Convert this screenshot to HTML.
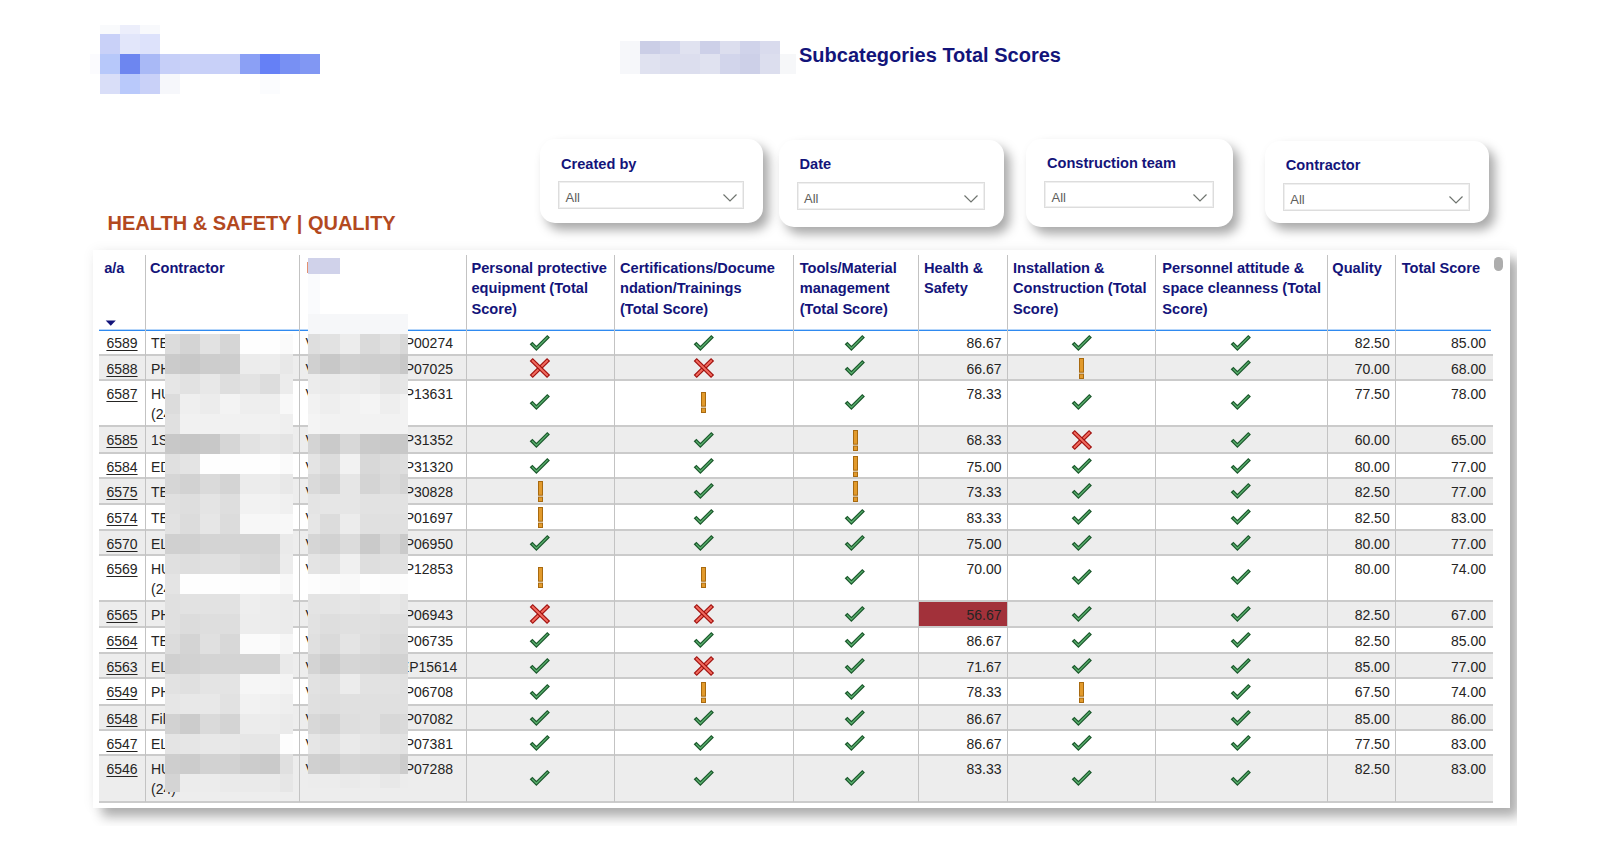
<!DOCTYPE html>
<html><head><meta charset="utf-8"><style>
html,body{margin:0;padding:0;}
body{width:1621px;height:854px;position:relative;overflow:hidden;background:#fff;font-family:"Liberation Sans",sans-serif;}
</style></head><body>
<div style="position:absolute;left:100px;top:25px;width:20px;height:9px;background:#f9fafc;"></div>
<div style="position:absolute;left:120px;top:25px;width:20px;height:9px;background:#eceefb;"></div>
<div style="position:absolute;left:140px;top:25px;width:20px;height:9px;background:#f8f9fc;"></div>
<div style="position:absolute;left:100px;top:34px;width:20px;height:20px;background:#c9d1f8;"></div>
<div style="position:absolute;left:120px;top:34px;width:20px;height:20px;background:#e2e6fa;"></div>
<div style="position:absolute;left:140px;top:34px;width:20px;height:20px;background:#dde2fb;"></div>
<div style="position:absolute;left:90px;top:54px;width:10px;height:20px;background:#fbfbfe;"></div>
<div style="position:absolute;left:100px;top:54px;width:20px;height:20px;background:#b7c8fa;"></div>
<div style="position:absolute;left:120px;top:54px;width:20px;height:20px;background:#6d86f0;"></div>
<div style="position:absolute;left:140px;top:54px;width:20px;height:20px;background:#a9b9f6;"></div>
<div style="position:absolute;left:160px;top:54px;width:20px;height:20px;background:#c6cff8;"></div>
<div style="position:absolute;left:180px;top:54px;width:20px;height:20px;background:#c9d1f8;"></div>
<div style="position:absolute;left:200px;top:54px;width:20px;height:20px;background:#c8d0f8;"></div>
<div style="position:absolute;left:220px;top:54px;width:20px;height:20px;background:#c9d1f8;"></div>
<div style="position:absolute;left:240px;top:54px;width:20px;height:20px;background:#8ba0f5;"></div>
<div style="position:absolute;left:260px;top:54px;width:20px;height:20px;background:#6580f6;"></div>
<div style="position:absolute;left:280px;top:54px;width:20px;height:20px;background:#7890f3;"></div>
<div style="position:absolute;left:300px;top:54px;width:20px;height:20px;background:#8197f3;"></div>
<div style="position:absolute;left:100px;top:74px;width:20px;height:20px;background:#d9def8;"></div>
<div style="position:absolute;left:120px;top:74px;width:20px;height:20px;background:#b9c9fb;"></div>
<div style="position:absolute;left:140px;top:74px;width:20px;height:20px;background:#c9d1f8;"></div>
<div style="position:absolute;left:160px;top:74px;width:20px;height:20px;background:#f6f7fb;"></div>
<div style="position:absolute;left:260px;top:74px;width:20px;height:20px;background:#fbfcfe;"></div>
<div style="position:absolute;left:620px;top:41px;width:20px;height:13px;background:#f6f7fa;"></div>
<div style="position:absolute;left:640px;top:41px;width:20px;height:13px;background:#cbcee6;"></div>
<div style="position:absolute;left:660px;top:41px;width:20px;height:13px;background:#d2d5eb;"></div>
<div style="position:absolute;left:680px;top:41px;width:20px;height:13px;background:#e0e2f0;"></div>
<div style="position:absolute;left:700px;top:41px;width:20px;height:13px;background:#cdd0e8;"></div>
<div style="position:absolute;left:720px;top:41px;width:20px;height:13px;background:#dcdeee;"></div>
<div style="position:absolute;left:740px;top:41px;width:20px;height:13px;background:#d0d3ea;"></div>
<div style="position:absolute;left:760px;top:41px;width:20px;height:13px;background:#d9dbed;"></div>
<div style="position:absolute;left:620px;top:54px;width:20px;height:20px;background:#f6f7fa;"></div>
<div style="position:absolute;left:640px;top:54px;width:20px;height:20px;background:#e0e2f0;"></div>
<div style="position:absolute;left:660px;top:54px;width:20px;height:20px;background:#dcdeee;"></div>
<div style="position:absolute;left:680px;top:54px;width:20px;height:20px;background:#dcdeee;"></div>
<div style="position:absolute;left:700px;top:54px;width:20px;height:20px;background:#e0e2f0;"></div>
<div style="position:absolute;left:720px;top:54px;width:20px;height:20px;background:#d2d5eb;"></div>
<div style="position:absolute;left:740px;top:54px;width:20px;height:20px;background:#cdd0e8;"></div>
<div style="position:absolute;left:760px;top:54px;width:20px;height:20px;background:#dcdeee;"></div>
<div style="position:absolute;left:780px;top:54px;width:16px;height:20px;background:#f6f7f9;"></div>
<div style="position:absolute;top:44.97px;font-size:20px;line-height:20px;color:#13147a;font-weight:700;white-space:nowrap;left:799.00px;">Subcategories Total Scores</div>
<div style="position:absolute;left:540px;top:139px;width:223px;height:84px;background:#fff;border-radius:15px;box-shadow:6px 7px 11px rgba(0,0,0,0.34);"></div>
<div style="position:absolute;top:156.54px;font-size:14.6px;line-height:14.6px;color:#13147a;font-weight:700;white-space:nowrap;left:561.00px;">Created by</div>
<div style="position:absolute;left:558.0px;top:181.3px;width:186.0px;height:27.8px;box-sizing:border-box;border:1px solid #dddddd;box-shadow:inset 0 0 0 1px #efefef;background:#fff;"></div>
<div style="position:absolute;top:191.10px;font-size:13px;line-height:13px;color:#605e5c;font-weight:400;white-space:nowrap;left:565.50px;">All</div>
<svg style="position:absolute;left:723.0px;top:193.8px" width="14" height="8" viewBox="0 0 14 8"><polyline points="0.5,0.5 7,7 13.5,0.5" fill="none" stroke="#6f746f" stroke-width="1.2"/></svg>
<div style="position:absolute;left:779px;top:140px;width:225px;height:87px;background:#fff;border-radius:15px;box-shadow:6px 7px 11px rgba(0,0,0,0.34);"></div>
<div style="position:absolute;top:156.94px;font-size:14.6px;line-height:14.6px;color:#13147a;font-weight:700;white-space:nowrap;left:799.50px;">Date</div>
<div style="position:absolute;left:796.5px;top:182.3px;width:188.5px;height:27.8px;box-sizing:border-box;border:1px solid #dddddd;box-shadow:inset 0 0 0 1px #efefef;background:#fff;"></div>
<div style="position:absolute;top:192.10px;font-size:13px;line-height:13px;color:#605e5c;font-weight:400;white-space:nowrap;left:804.00px;">All</div>
<svg style="position:absolute;left:964.0px;top:194.8px" width="14" height="8" viewBox="0 0 14 8"><polyline points="0.5,0.5 7,7 13.5,0.5" fill="none" stroke="#6f746f" stroke-width="1.2"/></svg>
<div style="position:absolute;left:1026px;top:138.5px;width:207px;height:88px;background:#fff;border-radius:15px;box-shadow:6px 7px 11px rgba(0,0,0,0.34);"></div>
<div style="position:absolute;top:155.84px;font-size:14.6px;line-height:14.6px;color:#13147a;font-weight:700;white-space:nowrap;left:1047.00px;">Construction team</div>
<div style="position:absolute;left:1044.0px;top:181px;width:170.0px;height:27.3px;box-sizing:border-box;border:1px solid #dddddd;box-shadow:inset 0 0 0 1px #efefef;background:#fff;"></div>
<div style="position:absolute;top:190.80px;font-size:13px;line-height:13px;color:#605e5c;font-weight:400;white-space:nowrap;left:1051.50px;">All</div>
<svg style="position:absolute;left:1193.0px;top:193.5px" width="14" height="8" viewBox="0 0 14 8"><polyline points="0.5,0.5 7,7 13.5,0.5" fill="none" stroke="#6f746f" stroke-width="1.2"/></svg>
<div style="position:absolute;left:1265px;top:141px;width:224px;height:82px;background:#fff;border-radius:15px;box-shadow:6px 7px 11px rgba(0,0,0,0.34);"></div>
<div style="position:absolute;top:157.74px;font-size:14.6px;line-height:14.6px;color:#13147a;font-weight:700;white-space:nowrap;left:1285.80px;">Contractor</div>
<div style="position:absolute;left:1282.8px;top:183.4px;width:187.5px;height:27.400000000000002px;box-sizing:border-box;border:1px solid #dddddd;box-shadow:inset 0 0 0 1px #efefef;background:#fff;"></div>
<div style="position:absolute;top:193.20px;font-size:13px;line-height:13px;color:#605e5c;font-weight:400;white-space:nowrap;left:1290.30px;">All</div>
<svg style="position:absolute;left:1449.3px;top:195.9px" width="14" height="8" viewBox="0 0 14 8"><polyline points="0.5,0.5 7,7 13.5,0.5" fill="none" stroke="#6f746f" stroke-width="1.2"/></svg>
<div style="position:absolute;top:212.87px;font-size:20px;line-height:20px;color:#b3491f;font-weight:700;white-space:nowrap;left:107.50px;">HEALTH &amp; SAFETY | QUALITY</div>
<div style="position:absolute;left:78px;top:234px;width:1439px;height:592px;overflow:hidden;">
<div style="position:absolute;left:15px;top:16px;width:1417px;height:558px;background:#fff;box-shadow:9px 9px 11px rgba(0,0,0,0.30),0 0 12px rgba(0,0,0,0.06);"></div>
</div>
<div style="position:absolute;top:260.54px;font-size:14.6px;line-height:14.6px;color:#13147a;font-weight:700;white-space:nowrap;left:104.20px;">a/a</div>
<div style="position:absolute;top:260.54px;font-size:14.6px;line-height:14.6px;color:#13147a;font-weight:700;white-space:nowrap;left:150.00px;">Contractor</div>
<div style="position:absolute;top:260.54px;font-size:14.6px;line-height:14.6px;color:#13147a;font-weight:700;white-space:nowrap;left:471.50px;">Personal protective</div>
<div style="position:absolute;top:281.44px;font-size:14.6px;line-height:14.6px;color:#13147a;font-weight:700;white-space:nowrap;left:471.50px;">equipment (Total</div>
<div style="position:absolute;top:302.34px;font-size:14.6px;line-height:14.6px;color:#13147a;font-weight:700;white-space:nowrap;left:471.50px;">Score)</div>
<div style="position:absolute;top:260.54px;font-size:14.6px;line-height:14.6px;color:#13147a;font-weight:700;white-space:nowrap;left:620.00px;">Certifications/Docume</div>
<div style="position:absolute;top:281.44px;font-size:14.6px;line-height:14.6px;color:#13147a;font-weight:700;white-space:nowrap;left:620.00px;">ndation/Trainings</div>
<div style="position:absolute;top:302.34px;font-size:14.6px;line-height:14.6px;color:#13147a;font-weight:700;white-space:nowrap;left:620.00px;">(Total Score)</div>
<div style="position:absolute;top:260.54px;font-size:14.6px;line-height:14.6px;color:#13147a;font-weight:700;white-space:nowrap;left:799.70px;">Tools/Material</div>
<div style="position:absolute;top:281.44px;font-size:14.6px;line-height:14.6px;color:#13147a;font-weight:700;white-space:nowrap;left:799.70px;">management</div>
<div style="position:absolute;top:302.34px;font-size:14.6px;line-height:14.6px;color:#13147a;font-weight:700;white-space:nowrap;left:799.70px;">(Total Score)</div>
<div style="position:absolute;top:260.54px;font-size:14.6px;line-height:14.6px;color:#13147a;font-weight:700;white-space:nowrap;left:924.00px;">Health &amp;</div>
<div style="position:absolute;top:281.44px;font-size:14.6px;line-height:14.6px;color:#13147a;font-weight:700;white-space:nowrap;left:924.00px;">Safety</div>
<div style="position:absolute;top:260.54px;font-size:14.6px;line-height:14.6px;color:#13147a;font-weight:700;white-space:nowrap;left:1013.00px;">Installation &amp;</div>
<div style="position:absolute;top:281.44px;font-size:14.6px;line-height:14.6px;color:#13147a;font-weight:700;white-space:nowrap;left:1013.00px;">Construction (Total</div>
<div style="position:absolute;top:302.34px;font-size:14.6px;line-height:14.6px;color:#13147a;font-weight:700;white-space:nowrap;left:1013.00px;">Score)</div>
<div style="position:absolute;top:260.54px;font-size:14.6px;line-height:14.6px;color:#13147a;font-weight:700;white-space:nowrap;left:1162.30px;">Personnel attitude &amp;</div>
<div style="position:absolute;top:281.44px;font-size:14.6px;line-height:14.6px;color:#13147a;font-weight:700;white-space:nowrap;left:1162.30px;">space cleanness (Total</div>
<div style="position:absolute;top:302.34px;font-size:14.6px;line-height:14.6px;color:#13147a;font-weight:700;white-space:nowrap;left:1162.30px;">Score)</div>
<div style="position:absolute;top:260.54px;font-size:14.6px;line-height:14.6px;color:#13147a;font-weight:700;white-space:nowrap;left:1332.30px;">Quality</div>
<div style="position:absolute;top:260.54px;font-size:14.6px;line-height:14.6px;color:#13147a;font-weight:700;white-space:nowrap;left:1401.70px;">Total Score</div>
<svg style="position:absolute;left:105px;top:319.5px" width="12" height="7" viewBox="0 0 12 7"><polygon points="0.7,0.6 10.8,0.6 5.75,5.8" fill="#13147a"/></svg>
<div style="position:absolute;left:1494px;top:256.5px;width:9px;height:14.5px;background:#adadad;border-radius:4.5px;"></div>
<div style="position:absolute;left:99px;top:354px;width:1394px;height:2px;background:#cbcbcb;"></div>
<div style="position:absolute;left:99px;top:356px;width:1394px;height:23px;background:#ededed;"></div>
<div style="position:absolute;left:99px;top:379px;width:1394px;height:2px;background:#cbcbcb;"></div>
<div style="position:absolute;left:99px;top:425px;width:1394px;height:2px;background:#cbcbcb;"></div>
<div style="position:absolute;left:99px;top:427px;width:1394px;height:25px;background:#ededed;"></div>
<div style="position:absolute;left:99px;top:452px;width:1394px;height:2px;background:#cbcbcb;"></div>
<div style="position:absolute;left:99px;top:477px;width:1394px;height:2px;background:#cbcbcb;"></div>
<div style="position:absolute;left:99px;top:479px;width:1394px;height:24px;background:#ededed;"></div>
<div style="position:absolute;left:99px;top:503px;width:1394px;height:2px;background:#cbcbcb;"></div>
<div style="position:absolute;left:99px;top:529px;width:1394px;height:2px;background:#cbcbcb;"></div>
<div style="position:absolute;left:99px;top:531px;width:1394px;height:23px;background:#ededed;"></div>
<div style="position:absolute;left:99px;top:554px;width:1394px;height:2px;background:#cbcbcb;"></div>
<div style="position:absolute;left:99px;top:600px;width:1394px;height:2px;background:#cbcbcb;"></div>
<div style="position:absolute;left:99px;top:602px;width:1394px;height:24px;background:#ededed;"></div>
<div style="position:absolute;left:99px;top:626px;width:1394px;height:2px;background:#cbcbcb;"></div>
<div style="position:absolute;left:99px;top:652px;width:1394px;height:2px;background:#cbcbcb;"></div>
<div style="position:absolute;left:99px;top:654px;width:1394px;height:23px;background:#ededed;"></div>
<div style="position:absolute;left:99px;top:677px;width:1394px;height:2px;background:#cbcbcb;"></div>
<div style="position:absolute;left:99px;top:704px;width:1394px;height:2px;background:#cbcbcb;"></div>
<div style="position:absolute;left:99px;top:706px;width:1394px;height:23px;background:#ededed;"></div>
<div style="position:absolute;left:99px;top:729px;width:1394px;height:2px;background:#cbcbcb;"></div>
<div style="position:absolute;left:99px;top:754px;width:1394px;height:2px;background:#cbcbcb;"></div>
<div style="position:absolute;left:99px;top:756px;width:1394px;height:45px;background:#ededed;"></div>
<div style="position:absolute;left:99px;top:801px;width:1394px;height:2px;background:#cbcbcb;"></div>
<div style="position:absolute;left:99px;top:330px;width:1392px;height:1px;background:#2f8af0;"></div>
<div style="position:absolute;left:99px;top:329px;width:1392px;height:1px;background:rgba(47,138,240,0.35);"></div>
<div style="position:absolute;left:145px;top:255px;width:1px;height:547px;background:#c3c3c3;"></div>
<div style="position:absolute;left:299px;top:255px;width:1px;height:547px;background:#c3c3c3;"></div>
<div style="position:absolute;left:466px;top:255px;width:1px;height:547px;background:#c3c3c3;"></div>
<div style="position:absolute;left:614px;top:255px;width:1px;height:547px;background:#c3c3c3;"></div>
<div style="position:absolute;left:793px;top:255px;width:1px;height:547px;background:#c3c3c3;"></div>
<div style="position:absolute;left:918px;top:255px;width:1px;height:547px;background:#c3c3c3;"></div>
<div style="position:absolute;left:1007px;top:255px;width:1px;height:547px;background:#c3c3c3;"></div>
<div style="position:absolute;left:1155px;top:255px;width:1px;height:547px;background:#c3c3c3;"></div>
<div style="position:absolute;left:1327px;top:255px;width:1px;height:547px;background:#c3c3c3;"></div>
<div style="position:absolute;left:1395px;top:255px;width:1px;height:547px;background:#c3c3c3;"></div>
<div style="position:absolute;left:919px;top:602px;width:88px;height:24px;background:#a2313a;"></div>
<div style="position:absolute;top:335.85px;font-size:14px;line-height:14px;color:#252423;font-weight:400;white-space:nowrap;left:106.40px;text-decoration:underline;text-underline-offset:2px;">6589</div>
<div style="position:absolute;top:335.85px;font-size:14px;line-height:14px;color:#252423;font-weight:400;white-space:nowrap;left:151.00px;">TE</div>
<div style="position:absolute;top:335.85px;font-size:14px;line-height:14px;color:#252423;font-weight:400;white-space:nowrap;left:305.40px;">V</div>
<div style="position:absolute;top:335.85px;font-size:14px;line-height:14px;color:#252423;font-weight:400;white-space:nowrap;left:404.70px;">P00274</div>
<svg style="position:absolute;left:529.9px;top:334.8px;overflow:visible" width="20" height="16" viewBox="0 0 20 16"><polygon points="2.4,7.6 6.4,11.7 17.3,0.8 19.0,2.4 6.4,15.1 0.6,9.2" fill="#5cb470" stroke="#1d5a2e" stroke-width="1.3" stroke-linejoin="miter"/></svg>
<svg style="position:absolute;left:693.5px;top:334.8px;overflow:visible" width="20" height="16" viewBox="0 0 20 16"><polygon points="2.4,7.6 6.4,11.7 17.3,0.8 19.0,2.4 6.4,15.1 0.6,9.2" fill="#5cb470" stroke="#1d5a2e" stroke-width="1.3" stroke-linejoin="miter"/></svg>
<svg style="position:absolute;left:845.4px;top:334.8px;overflow:visible" width="20" height="16" viewBox="0 0 20 16"><polygon points="2.4,7.6 6.4,11.7 17.3,0.8 19.0,2.4 6.4,15.1 0.6,9.2" fill="#5cb470" stroke="#1d5a2e" stroke-width="1.3" stroke-linejoin="miter"/></svg>
<svg style="position:absolute;left:1071.5px;top:334.8px;overflow:visible" width="20" height="16" viewBox="0 0 20 16"><polygon points="2.4,7.6 6.4,11.7 17.3,0.8 19.0,2.4 6.4,15.1 0.6,9.2" fill="#5cb470" stroke="#1d5a2e" stroke-width="1.3" stroke-linejoin="miter"/></svg>
<svg style="position:absolute;left:1231.2px;top:334.8px;overflow:visible" width="20" height="16" viewBox="0 0 20 16"><polygon points="2.4,7.6 6.4,11.7 17.3,0.8 19.0,2.4 6.4,15.1 0.6,9.2" fill="#5cb470" stroke="#1d5a2e" stroke-width="1.3" stroke-linejoin="miter"/></svg>
<div style="position:absolute;top:335.85px;font-size:14px;line-height:14px;color:#252423;font-weight:400;white-space:nowrap;right:619.50px;text-align:right;">86.67</div>
<div style="position:absolute;top:335.85px;font-size:14px;line-height:14px;color:#252423;font-weight:400;white-space:nowrap;right:231.30px;text-align:right;">82.50</div>
<div style="position:absolute;top:335.85px;font-size:14px;line-height:14px;color:#252423;font-weight:400;white-space:nowrap;right:135.00px;text-align:right;">85.00</div>
<div style="position:absolute;top:361.85px;font-size:14px;line-height:14px;color:#252423;font-weight:400;white-space:nowrap;left:106.40px;text-decoration:underline;text-underline-offset:2px;">6588</div>
<div style="position:absolute;top:361.85px;font-size:14px;line-height:14px;color:#252423;font-weight:400;white-space:nowrap;left:151.00px;">PH</div>
<div style="position:absolute;top:361.85px;font-size:14px;line-height:14px;color:#252423;font-weight:400;white-space:nowrap;left:305.40px;">V</div>
<div style="position:absolute;top:361.85px;font-size:14px;line-height:14px;color:#252423;font-weight:400;white-space:nowrap;left:404.70px;">P07025</div>
<svg style="position:absolute;left:530.2px;top:357.5px;overflow:visible" width="20" height="20" viewBox="0 0 20 20"><line x1="1.2" y1="18.5" x2="18.6" y2="1.5" stroke="#a0100e" stroke-width="4.4"/><line x1="2.0" y1="17.7" x2="17.8" y2="2.3" stroke="#f26b5f" stroke-width="1.9"/><line x1="1.2" y1="1.5" x2="18.6" y2="18.5" stroke="#a0100e" stroke-width="4.4"/><line x1="2.0" y1="2.3" x2="17.8" y2="17.7" stroke="#f26b5f" stroke-width="1.9"/></svg>
<svg style="position:absolute;left:693.8px;top:357.5px;overflow:visible" width="20" height="20" viewBox="0 0 20 20"><line x1="1.2" y1="18.5" x2="18.6" y2="1.5" stroke="#a0100e" stroke-width="4.4"/><line x1="2.0" y1="17.7" x2="17.8" y2="2.3" stroke="#f26b5f" stroke-width="1.9"/><line x1="1.2" y1="1.5" x2="18.6" y2="18.5" stroke="#a0100e" stroke-width="4.4"/><line x1="2.0" y1="2.3" x2="17.8" y2="17.7" stroke="#f26b5f" stroke-width="1.9"/></svg>
<svg style="position:absolute;left:845.4px;top:359.8px;overflow:visible" width="20" height="16" viewBox="0 0 20 16"><polygon points="2.4,7.6 6.4,11.7 17.3,0.8 19.0,2.4 6.4,15.1 0.6,9.2" fill="#5cb470" stroke="#1d5a2e" stroke-width="1.3" stroke-linejoin="miter"/></svg>
<svg style="position:absolute;left:1079.3px;top:357.5px;overflow:visible" width="5" height="21" viewBox="0 0 5 21"><rect x="0.5" y="0.5" width="4" height="13.7" fill="#e29a2c" stroke="#a86a10" stroke-width="1"/><rect x="0.5" y="16.1" width="4" height="4.4" fill="#e29a2c" stroke="#a86a10" stroke-width="1"/></svg>
<svg style="position:absolute;left:1231.2px;top:359.8px;overflow:visible" width="20" height="16" viewBox="0 0 20 16"><polygon points="2.4,7.6 6.4,11.7 17.3,0.8 19.0,2.4 6.4,15.1 0.6,9.2" fill="#5cb470" stroke="#1d5a2e" stroke-width="1.3" stroke-linejoin="miter"/></svg>
<div style="position:absolute;top:361.85px;font-size:14px;line-height:14px;color:#252423;font-weight:400;white-space:nowrap;right:619.50px;text-align:right;">66.67</div>
<div style="position:absolute;top:361.85px;font-size:14px;line-height:14px;color:#252423;font-weight:400;white-space:nowrap;right:231.30px;text-align:right;">70.00</div>
<div style="position:absolute;top:361.85px;font-size:14px;line-height:14px;color:#252423;font-weight:400;white-space:nowrap;right:135.00px;text-align:right;">68.00</div>
<div style="position:absolute;top:386.85px;font-size:14px;line-height:14px;color:#252423;font-weight:400;white-space:nowrap;left:106.40px;text-decoration:underline;text-underline-offset:2px;">6587</div>
<div style="position:absolute;top:386.85px;font-size:14px;line-height:14px;color:#252423;font-weight:400;white-space:nowrap;left:151.00px;">HU</div>
<div style="position:absolute;top:407.35px;font-size:14px;line-height:14px;color:#252423;font-weight:400;white-space:nowrap;left:151.00px;">(24)</div>
<div style="position:absolute;top:386.85px;font-size:14px;line-height:14px;color:#252423;font-weight:400;white-space:nowrap;left:305.40px;">V</div>
<div style="position:absolute;top:386.85px;font-size:14px;line-height:14px;color:#252423;font-weight:400;white-space:nowrap;left:404.70px;">P13631</div>
<svg style="position:absolute;left:529.9px;top:394.1px;overflow:visible" width="20" height="16" viewBox="0 0 20 16"><polygon points="2.4,7.6 6.4,11.7 17.3,0.8 19.0,2.4 6.4,15.1 0.6,9.2" fill="#5cb470" stroke="#1d5a2e" stroke-width="1.3" stroke-linejoin="miter"/></svg>
<svg style="position:absolute;left:701.3px;top:391.8px;overflow:visible" width="5" height="21" viewBox="0 0 5 21"><rect x="0.5" y="0.5" width="4" height="13.7" fill="#e29a2c" stroke="#a86a10" stroke-width="1"/><rect x="0.5" y="16.1" width="4" height="4.4" fill="#e29a2c" stroke="#a86a10" stroke-width="1"/></svg>
<svg style="position:absolute;left:845.4px;top:394.1px;overflow:visible" width="20" height="16" viewBox="0 0 20 16"><polygon points="2.4,7.6 6.4,11.7 17.3,0.8 19.0,2.4 6.4,15.1 0.6,9.2" fill="#5cb470" stroke="#1d5a2e" stroke-width="1.3" stroke-linejoin="miter"/></svg>
<svg style="position:absolute;left:1071.5px;top:394.1px;overflow:visible" width="20" height="16" viewBox="0 0 20 16"><polygon points="2.4,7.6 6.4,11.7 17.3,0.8 19.0,2.4 6.4,15.1 0.6,9.2" fill="#5cb470" stroke="#1d5a2e" stroke-width="1.3" stroke-linejoin="miter"/></svg>
<svg style="position:absolute;left:1231.2px;top:394.1px;overflow:visible" width="20" height="16" viewBox="0 0 20 16"><polygon points="2.4,7.6 6.4,11.7 17.3,0.8 19.0,2.4 6.4,15.1 0.6,9.2" fill="#5cb470" stroke="#1d5a2e" stroke-width="1.3" stroke-linejoin="miter"/></svg>
<div style="position:absolute;top:386.85px;font-size:14px;line-height:14px;color:#252423;font-weight:400;white-space:nowrap;right:619.50px;text-align:right;">78.33</div>
<div style="position:absolute;top:386.85px;font-size:14px;line-height:14px;color:#252423;font-weight:400;white-space:nowrap;right:231.30px;text-align:right;">77.50</div>
<div style="position:absolute;top:386.85px;font-size:14px;line-height:14px;color:#252423;font-weight:400;white-space:nowrap;right:135.00px;text-align:right;">78.00</div>
<div style="position:absolute;top:432.85px;font-size:14px;line-height:14px;color:#252423;font-weight:400;white-space:nowrap;left:106.40px;text-decoration:underline;text-underline-offset:2px;">6585</div>
<div style="position:absolute;top:432.85px;font-size:14px;line-height:14px;color:#252423;font-weight:400;white-space:nowrap;left:151.00px;">1S</div>
<div style="position:absolute;top:432.85px;font-size:14px;line-height:14px;color:#252423;font-weight:400;white-space:nowrap;left:305.40px;">V</div>
<div style="position:absolute;top:432.85px;font-size:14px;line-height:14px;color:#252423;font-weight:400;white-space:nowrap;left:404.70px;">P31352</div>
<svg style="position:absolute;left:529.9px;top:431.8px;overflow:visible" width="20" height="16" viewBox="0 0 20 16"><polygon points="2.4,7.6 6.4,11.7 17.3,0.8 19.0,2.4 6.4,15.1 0.6,9.2" fill="#5cb470" stroke="#1d5a2e" stroke-width="1.3" stroke-linejoin="miter"/></svg>
<svg style="position:absolute;left:693.5px;top:431.8px;overflow:visible" width="20" height="16" viewBox="0 0 20 16"><polygon points="2.4,7.6 6.4,11.7 17.3,0.8 19.0,2.4 6.4,15.1 0.6,9.2" fill="#5cb470" stroke="#1d5a2e" stroke-width="1.3" stroke-linejoin="miter"/></svg>
<svg style="position:absolute;left:853.2px;top:429.5px;overflow:visible" width="5" height="21" viewBox="0 0 5 21"><rect x="0.5" y="0.5" width="4" height="13.7" fill="#e29a2c" stroke="#a86a10" stroke-width="1"/><rect x="0.5" y="16.1" width="4" height="4.4" fill="#e29a2c" stroke="#a86a10" stroke-width="1"/></svg>
<svg style="position:absolute;left:1071.8px;top:429.5px;overflow:visible" width="20" height="20" viewBox="0 0 20 20"><line x1="1.2" y1="18.5" x2="18.6" y2="1.5" stroke="#a0100e" stroke-width="4.4"/><line x1="2.0" y1="17.7" x2="17.8" y2="2.3" stroke="#f26b5f" stroke-width="1.9"/><line x1="1.2" y1="1.5" x2="18.6" y2="18.5" stroke="#a0100e" stroke-width="4.4"/><line x1="2.0" y1="2.3" x2="17.8" y2="17.7" stroke="#f26b5f" stroke-width="1.9"/></svg>
<svg style="position:absolute;left:1231.2px;top:431.8px;overflow:visible" width="20" height="16" viewBox="0 0 20 16"><polygon points="2.4,7.6 6.4,11.7 17.3,0.8 19.0,2.4 6.4,15.1 0.6,9.2" fill="#5cb470" stroke="#1d5a2e" stroke-width="1.3" stroke-linejoin="miter"/></svg>
<div style="position:absolute;top:432.85px;font-size:14px;line-height:14px;color:#252423;font-weight:400;white-space:nowrap;right:619.50px;text-align:right;">68.33</div>
<div style="position:absolute;top:432.85px;font-size:14px;line-height:14px;color:#252423;font-weight:400;white-space:nowrap;right:231.30px;text-align:right;">60.00</div>
<div style="position:absolute;top:432.85px;font-size:14px;line-height:14px;color:#252423;font-weight:400;white-space:nowrap;right:135.00px;text-align:right;">65.00</div>
<div style="position:absolute;top:459.85px;font-size:14px;line-height:14px;color:#252423;font-weight:400;white-space:nowrap;left:106.40px;text-decoration:underline;text-underline-offset:2px;">6584</div>
<div style="position:absolute;top:459.85px;font-size:14px;line-height:14px;color:#252423;font-weight:400;white-space:nowrap;left:151.00px;">ED</div>
<div style="position:absolute;top:459.85px;font-size:14px;line-height:14px;color:#252423;font-weight:400;white-space:nowrap;left:305.40px;">V</div>
<div style="position:absolute;top:459.85px;font-size:14px;line-height:14px;color:#252423;font-weight:400;white-space:nowrap;left:404.70px;">P31320</div>
<svg style="position:absolute;left:529.9px;top:457.8px;overflow:visible" width="20" height="16" viewBox="0 0 20 16"><polygon points="2.4,7.6 6.4,11.7 17.3,0.8 19.0,2.4 6.4,15.1 0.6,9.2" fill="#5cb470" stroke="#1d5a2e" stroke-width="1.3" stroke-linejoin="miter"/></svg>
<svg style="position:absolute;left:693.5px;top:457.8px;overflow:visible" width="20" height="16" viewBox="0 0 20 16"><polygon points="2.4,7.6 6.4,11.7 17.3,0.8 19.0,2.4 6.4,15.1 0.6,9.2" fill="#5cb470" stroke="#1d5a2e" stroke-width="1.3" stroke-linejoin="miter"/></svg>
<svg style="position:absolute;left:853.2px;top:455.5px;overflow:visible" width="5" height="21" viewBox="0 0 5 21"><rect x="0.5" y="0.5" width="4" height="13.7" fill="#e29a2c" stroke="#a86a10" stroke-width="1"/><rect x="0.5" y="16.1" width="4" height="4.4" fill="#e29a2c" stroke="#a86a10" stroke-width="1"/></svg>
<svg style="position:absolute;left:1071.5px;top:457.8px;overflow:visible" width="20" height="16" viewBox="0 0 20 16"><polygon points="2.4,7.6 6.4,11.7 17.3,0.8 19.0,2.4 6.4,15.1 0.6,9.2" fill="#5cb470" stroke="#1d5a2e" stroke-width="1.3" stroke-linejoin="miter"/></svg>
<svg style="position:absolute;left:1231.2px;top:457.8px;overflow:visible" width="20" height="16" viewBox="0 0 20 16"><polygon points="2.4,7.6 6.4,11.7 17.3,0.8 19.0,2.4 6.4,15.1 0.6,9.2" fill="#5cb470" stroke="#1d5a2e" stroke-width="1.3" stroke-linejoin="miter"/></svg>
<div style="position:absolute;top:459.85px;font-size:14px;line-height:14px;color:#252423;font-weight:400;white-space:nowrap;right:619.50px;text-align:right;">75.00</div>
<div style="position:absolute;top:459.85px;font-size:14px;line-height:14px;color:#252423;font-weight:400;white-space:nowrap;right:231.30px;text-align:right;">80.00</div>
<div style="position:absolute;top:459.85px;font-size:14px;line-height:14px;color:#252423;font-weight:400;white-space:nowrap;right:135.00px;text-align:right;">77.00</div>
<div style="position:absolute;top:484.85px;font-size:14px;line-height:14px;color:#252423;font-weight:400;white-space:nowrap;left:106.40px;text-decoration:underline;text-underline-offset:2px;">6575</div>
<div style="position:absolute;top:484.85px;font-size:14px;line-height:14px;color:#252423;font-weight:400;white-space:nowrap;left:151.00px;">TE</div>
<div style="position:absolute;top:484.85px;font-size:14px;line-height:14px;color:#252423;font-weight:400;white-space:nowrap;left:305.40px;">V</div>
<div style="position:absolute;top:484.85px;font-size:14px;line-height:14px;color:#252423;font-weight:400;white-space:nowrap;left:404.70px;">P30828</div>
<svg style="position:absolute;left:537.7px;top:481.0px;overflow:visible" width="5" height="21" viewBox="0 0 5 21"><rect x="0.5" y="0.5" width="4" height="13.7" fill="#e29a2c" stroke="#a86a10" stroke-width="1"/><rect x="0.5" y="16.1" width="4" height="4.4" fill="#e29a2c" stroke="#a86a10" stroke-width="1"/></svg>
<svg style="position:absolute;left:693.5px;top:483.3px;overflow:visible" width="20" height="16" viewBox="0 0 20 16"><polygon points="2.4,7.6 6.4,11.7 17.3,0.8 19.0,2.4 6.4,15.1 0.6,9.2" fill="#5cb470" stroke="#1d5a2e" stroke-width="1.3" stroke-linejoin="miter"/></svg>
<svg style="position:absolute;left:853.2px;top:481.0px;overflow:visible" width="5" height="21" viewBox="0 0 5 21"><rect x="0.5" y="0.5" width="4" height="13.7" fill="#e29a2c" stroke="#a86a10" stroke-width="1"/><rect x="0.5" y="16.1" width="4" height="4.4" fill="#e29a2c" stroke="#a86a10" stroke-width="1"/></svg>
<svg style="position:absolute;left:1071.5px;top:483.3px;overflow:visible" width="20" height="16" viewBox="0 0 20 16"><polygon points="2.4,7.6 6.4,11.7 17.3,0.8 19.0,2.4 6.4,15.1 0.6,9.2" fill="#5cb470" stroke="#1d5a2e" stroke-width="1.3" stroke-linejoin="miter"/></svg>
<svg style="position:absolute;left:1231.2px;top:483.3px;overflow:visible" width="20" height="16" viewBox="0 0 20 16"><polygon points="2.4,7.6 6.4,11.7 17.3,0.8 19.0,2.4 6.4,15.1 0.6,9.2" fill="#5cb470" stroke="#1d5a2e" stroke-width="1.3" stroke-linejoin="miter"/></svg>
<div style="position:absolute;top:484.85px;font-size:14px;line-height:14px;color:#252423;font-weight:400;white-space:nowrap;right:619.50px;text-align:right;">73.33</div>
<div style="position:absolute;top:484.85px;font-size:14px;line-height:14px;color:#252423;font-weight:400;white-space:nowrap;right:231.30px;text-align:right;">82.50</div>
<div style="position:absolute;top:484.85px;font-size:14px;line-height:14px;color:#252423;font-weight:400;white-space:nowrap;right:135.00px;text-align:right;">77.00</div>
<div style="position:absolute;top:510.85px;font-size:14px;line-height:14px;color:#252423;font-weight:400;white-space:nowrap;left:106.40px;text-decoration:underline;text-underline-offset:2px;">6574</div>
<div style="position:absolute;top:510.85px;font-size:14px;line-height:14px;color:#252423;font-weight:400;white-space:nowrap;left:151.00px;">TE</div>
<div style="position:absolute;top:510.85px;font-size:14px;line-height:14px;color:#252423;font-weight:400;white-space:nowrap;left:305.40px;">V</div>
<div style="position:absolute;top:510.85px;font-size:14px;line-height:14px;color:#252423;font-weight:400;white-space:nowrap;left:404.70px;">P01697</div>
<svg style="position:absolute;left:537.7px;top:507.0px;overflow:visible" width="5" height="21" viewBox="0 0 5 21"><rect x="0.5" y="0.5" width="4" height="13.7" fill="#e29a2c" stroke="#a86a10" stroke-width="1"/><rect x="0.5" y="16.1" width="4" height="4.4" fill="#e29a2c" stroke="#a86a10" stroke-width="1"/></svg>
<svg style="position:absolute;left:693.5px;top:509.3px;overflow:visible" width="20" height="16" viewBox="0 0 20 16"><polygon points="2.4,7.6 6.4,11.7 17.3,0.8 19.0,2.4 6.4,15.1 0.6,9.2" fill="#5cb470" stroke="#1d5a2e" stroke-width="1.3" stroke-linejoin="miter"/></svg>
<svg style="position:absolute;left:845.4px;top:509.3px;overflow:visible" width="20" height="16" viewBox="0 0 20 16"><polygon points="2.4,7.6 6.4,11.7 17.3,0.8 19.0,2.4 6.4,15.1 0.6,9.2" fill="#5cb470" stroke="#1d5a2e" stroke-width="1.3" stroke-linejoin="miter"/></svg>
<svg style="position:absolute;left:1071.5px;top:509.3px;overflow:visible" width="20" height="16" viewBox="0 0 20 16"><polygon points="2.4,7.6 6.4,11.7 17.3,0.8 19.0,2.4 6.4,15.1 0.6,9.2" fill="#5cb470" stroke="#1d5a2e" stroke-width="1.3" stroke-linejoin="miter"/></svg>
<svg style="position:absolute;left:1231.2px;top:509.3px;overflow:visible" width="20" height="16" viewBox="0 0 20 16"><polygon points="2.4,7.6 6.4,11.7 17.3,0.8 19.0,2.4 6.4,15.1 0.6,9.2" fill="#5cb470" stroke="#1d5a2e" stroke-width="1.3" stroke-linejoin="miter"/></svg>
<div style="position:absolute;top:510.85px;font-size:14px;line-height:14px;color:#252423;font-weight:400;white-space:nowrap;right:619.50px;text-align:right;">83.33</div>
<div style="position:absolute;top:510.85px;font-size:14px;line-height:14px;color:#252423;font-weight:400;white-space:nowrap;right:231.30px;text-align:right;">82.50</div>
<div style="position:absolute;top:510.85px;font-size:14px;line-height:14px;color:#252423;font-weight:400;white-space:nowrap;right:135.00px;text-align:right;">83.00</div>
<div style="position:absolute;top:536.85px;font-size:14px;line-height:14px;color:#252423;font-weight:400;white-space:nowrap;left:106.40px;text-decoration:underline;text-underline-offset:2px;">6570</div>
<div style="position:absolute;top:536.85px;font-size:14px;line-height:14px;color:#252423;font-weight:400;white-space:nowrap;left:151.00px;">EL</div>
<div style="position:absolute;top:536.85px;font-size:14px;line-height:14px;color:#252423;font-weight:400;white-space:nowrap;left:305.40px;">V</div>
<div style="position:absolute;top:536.85px;font-size:14px;line-height:14px;color:#252423;font-weight:400;white-space:nowrap;left:404.70px;">P06950</div>
<svg style="position:absolute;left:529.9px;top:534.8px;overflow:visible" width="20" height="16" viewBox="0 0 20 16"><polygon points="2.4,7.6 6.4,11.7 17.3,0.8 19.0,2.4 6.4,15.1 0.6,9.2" fill="#5cb470" stroke="#1d5a2e" stroke-width="1.3" stroke-linejoin="miter"/></svg>
<svg style="position:absolute;left:693.5px;top:534.8px;overflow:visible" width="20" height="16" viewBox="0 0 20 16"><polygon points="2.4,7.6 6.4,11.7 17.3,0.8 19.0,2.4 6.4,15.1 0.6,9.2" fill="#5cb470" stroke="#1d5a2e" stroke-width="1.3" stroke-linejoin="miter"/></svg>
<svg style="position:absolute;left:845.4px;top:534.8px;overflow:visible" width="20" height="16" viewBox="0 0 20 16"><polygon points="2.4,7.6 6.4,11.7 17.3,0.8 19.0,2.4 6.4,15.1 0.6,9.2" fill="#5cb470" stroke="#1d5a2e" stroke-width="1.3" stroke-linejoin="miter"/></svg>
<svg style="position:absolute;left:1071.5px;top:534.8px;overflow:visible" width="20" height="16" viewBox="0 0 20 16"><polygon points="2.4,7.6 6.4,11.7 17.3,0.8 19.0,2.4 6.4,15.1 0.6,9.2" fill="#5cb470" stroke="#1d5a2e" stroke-width="1.3" stroke-linejoin="miter"/></svg>
<svg style="position:absolute;left:1231.2px;top:534.8px;overflow:visible" width="20" height="16" viewBox="0 0 20 16"><polygon points="2.4,7.6 6.4,11.7 17.3,0.8 19.0,2.4 6.4,15.1 0.6,9.2" fill="#5cb470" stroke="#1d5a2e" stroke-width="1.3" stroke-linejoin="miter"/></svg>
<div style="position:absolute;top:536.85px;font-size:14px;line-height:14px;color:#252423;font-weight:400;white-space:nowrap;right:619.50px;text-align:right;">75.00</div>
<div style="position:absolute;top:536.85px;font-size:14px;line-height:14px;color:#252423;font-weight:400;white-space:nowrap;right:231.30px;text-align:right;">80.00</div>
<div style="position:absolute;top:536.85px;font-size:14px;line-height:14px;color:#252423;font-weight:400;white-space:nowrap;right:135.00px;text-align:right;">77.00</div>
<div style="position:absolute;top:561.85px;font-size:14px;line-height:14px;color:#252423;font-weight:400;white-space:nowrap;left:106.40px;text-decoration:underline;text-underline-offset:2px;">6569</div>
<div style="position:absolute;top:561.85px;font-size:14px;line-height:14px;color:#252423;font-weight:400;white-space:nowrap;left:151.00px;">HU</div>
<div style="position:absolute;top:582.35px;font-size:14px;line-height:14px;color:#252423;font-weight:400;white-space:nowrap;left:151.00px;">(24)</div>
<div style="position:absolute;top:561.85px;font-size:14px;line-height:14px;color:#252423;font-weight:400;white-space:nowrap;left:305.40px;">V</div>
<div style="position:absolute;top:561.85px;font-size:14px;line-height:14px;color:#252423;font-weight:400;white-space:nowrap;left:404.70px;">P12853</div>
<svg style="position:absolute;left:537.7px;top:566.8px;overflow:visible" width="5" height="21" viewBox="0 0 5 21"><rect x="0.5" y="0.5" width="4" height="13.7" fill="#e29a2c" stroke="#a86a10" stroke-width="1"/><rect x="0.5" y="16.1" width="4" height="4.4" fill="#e29a2c" stroke="#a86a10" stroke-width="1"/></svg>
<svg style="position:absolute;left:701.3px;top:566.8px;overflow:visible" width="5" height="21" viewBox="0 0 5 21"><rect x="0.5" y="0.5" width="4" height="13.7" fill="#e29a2c" stroke="#a86a10" stroke-width="1"/><rect x="0.5" y="16.1" width="4" height="4.4" fill="#e29a2c" stroke="#a86a10" stroke-width="1"/></svg>
<svg style="position:absolute;left:845.4px;top:569.1px;overflow:visible" width="20" height="16" viewBox="0 0 20 16"><polygon points="2.4,7.6 6.4,11.7 17.3,0.8 19.0,2.4 6.4,15.1 0.6,9.2" fill="#5cb470" stroke="#1d5a2e" stroke-width="1.3" stroke-linejoin="miter"/></svg>
<svg style="position:absolute;left:1071.5px;top:569.1px;overflow:visible" width="20" height="16" viewBox="0 0 20 16"><polygon points="2.4,7.6 6.4,11.7 17.3,0.8 19.0,2.4 6.4,15.1 0.6,9.2" fill="#5cb470" stroke="#1d5a2e" stroke-width="1.3" stroke-linejoin="miter"/></svg>
<svg style="position:absolute;left:1231.2px;top:569.1px;overflow:visible" width="20" height="16" viewBox="0 0 20 16"><polygon points="2.4,7.6 6.4,11.7 17.3,0.8 19.0,2.4 6.4,15.1 0.6,9.2" fill="#5cb470" stroke="#1d5a2e" stroke-width="1.3" stroke-linejoin="miter"/></svg>
<div style="position:absolute;top:561.85px;font-size:14px;line-height:14px;color:#252423;font-weight:400;white-space:nowrap;right:619.50px;text-align:right;">70.00</div>
<div style="position:absolute;top:561.85px;font-size:14px;line-height:14px;color:#252423;font-weight:400;white-space:nowrap;right:231.30px;text-align:right;">80.00</div>
<div style="position:absolute;top:561.85px;font-size:14px;line-height:14px;color:#252423;font-weight:400;white-space:nowrap;right:135.00px;text-align:right;">74.00</div>
<div style="position:absolute;top:607.85px;font-size:14px;line-height:14px;color:#252423;font-weight:400;white-space:nowrap;left:106.40px;text-decoration:underline;text-underline-offset:2px;">6565</div>
<div style="position:absolute;top:607.85px;font-size:14px;line-height:14px;color:#252423;font-weight:400;white-space:nowrap;left:151.00px;">PH</div>
<div style="position:absolute;top:607.85px;font-size:14px;line-height:14px;color:#252423;font-weight:400;white-space:nowrap;left:305.40px;">V</div>
<div style="position:absolute;top:607.85px;font-size:14px;line-height:14px;color:#252423;font-weight:400;white-space:nowrap;left:404.70px;">P06943</div>
<svg style="position:absolute;left:530.2px;top:604.0px;overflow:visible" width="20" height="20" viewBox="0 0 20 20"><line x1="1.2" y1="18.5" x2="18.6" y2="1.5" stroke="#a0100e" stroke-width="4.4"/><line x1="2.0" y1="17.7" x2="17.8" y2="2.3" stroke="#f26b5f" stroke-width="1.9"/><line x1="1.2" y1="1.5" x2="18.6" y2="18.5" stroke="#a0100e" stroke-width="4.4"/><line x1="2.0" y1="2.3" x2="17.8" y2="17.7" stroke="#f26b5f" stroke-width="1.9"/></svg>
<svg style="position:absolute;left:693.8px;top:604.0px;overflow:visible" width="20" height="20" viewBox="0 0 20 20"><line x1="1.2" y1="18.5" x2="18.6" y2="1.5" stroke="#a0100e" stroke-width="4.4"/><line x1="2.0" y1="17.7" x2="17.8" y2="2.3" stroke="#f26b5f" stroke-width="1.9"/><line x1="1.2" y1="1.5" x2="18.6" y2="18.5" stroke="#a0100e" stroke-width="4.4"/><line x1="2.0" y1="2.3" x2="17.8" y2="17.7" stroke="#f26b5f" stroke-width="1.9"/></svg>
<svg style="position:absolute;left:845.4px;top:606.3px;overflow:visible" width="20" height="16" viewBox="0 0 20 16"><polygon points="2.4,7.6 6.4,11.7 17.3,0.8 19.0,2.4 6.4,15.1 0.6,9.2" fill="#5cb470" stroke="#1d5a2e" stroke-width="1.3" stroke-linejoin="miter"/></svg>
<svg style="position:absolute;left:1071.5px;top:606.3px;overflow:visible" width="20" height="16" viewBox="0 0 20 16"><polygon points="2.4,7.6 6.4,11.7 17.3,0.8 19.0,2.4 6.4,15.1 0.6,9.2" fill="#5cb470" stroke="#1d5a2e" stroke-width="1.3" stroke-linejoin="miter"/></svg>
<svg style="position:absolute;left:1231.2px;top:606.3px;overflow:visible" width="20" height="16" viewBox="0 0 20 16"><polygon points="2.4,7.6 6.4,11.7 17.3,0.8 19.0,2.4 6.4,15.1 0.6,9.2" fill="#5cb470" stroke="#1d5a2e" stroke-width="1.3" stroke-linejoin="miter"/></svg>
<div style="position:absolute;top:607.85px;font-size:14px;line-height:14px;color:#252423;font-weight:400;white-space:nowrap;right:619.50px;text-align:right;">56.67</div>
<div style="position:absolute;top:607.85px;font-size:14px;line-height:14px;color:#252423;font-weight:400;white-space:nowrap;right:231.30px;text-align:right;">82.50</div>
<div style="position:absolute;top:607.85px;font-size:14px;line-height:14px;color:#252423;font-weight:400;white-space:nowrap;right:135.00px;text-align:right;">67.00</div>
<div style="position:absolute;top:633.85px;font-size:14px;line-height:14px;color:#252423;font-weight:400;white-space:nowrap;left:106.40px;text-decoration:underline;text-underline-offset:2px;">6564</div>
<div style="position:absolute;top:633.85px;font-size:14px;line-height:14px;color:#252423;font-weight:400;white-space:nowrap;left:151.00px;">TE</div>
<div style="position:absolute;top:633.85px;font-size:14px;line-height:14px;color:#252423;font-weight:400;white-space:nowrap;left:305.40px;">V</div>
<div style="position:absolute;top:633.85px;font-size:14px;line-height:14px;color:#252423;font-weight:400;white-space:nowrap;left:404.70px;">P06735</div>
<svg style="position:absolute;left:529.9px;top:632.3px;overflow:visible" width="20" height="16" viewBox="0 0 20 16"><polygon points="2.4,7.6 6.4,11.7 17.3,0.8 19.0,2.4 6.4,15.1 0.6,9.2" fill="#5cb470" stroke="#1d5a2e" stroke-width="1.3" stroke-linejoin="miter"/></svg>
<svg style="position:absolute;left:693.5px;top:632.3px;overflow:visible" width="20" height="16" viewBox="0 0 20 16"><polygon points="2.4,7.6 6.4,11.7 17.3,0.8 19.0,2.4 6.4,15.1 0.6,9.2" fill="#5cb470" stroke="#1d5a2e" stroke-width="1.3" stroke-linejoin="miter"/></svg>
<svg style="position:absolute;left:845.4px;top:632.3px;overflow:visible" width="20" height="16" viewBox="0 0 20 16"><polygon points="2.4,7.6 6.4,11.7 17.3,0.8 19.0,2.4 6.4,15.1 0.6,9.2" fill="#5cb470" stroke="#1d5a2e" stroke-width="1.3" stroke-linejoin="miter"/></svg>
<svg style="position:absolute;left:1071.5px;top:632.3px;overflow:visible" width="20" height="16" viewBox="0 0 20 16"><polygon points="2.4,7.6 6.4,11.7 17.3,0.8 19.0,2.4 6.4,15.1 0.6,9.2" fill="#5cb470" stroke="#1d5a2e" stroke-width="1.3" stroke-linejoin="miter"/></svg>
<svg style="position:absolute;left:1231.2px;top:632.3px;overflow:visible" width="20" height="16" viewBox="0 0 20 16"><polygon points="2.4,7.6 6.4,11.7 17.3,0.8 19.0,2.4 6.4,15.1 0.6,9.2" fill="#5cb470" stroke="#1d5a2e" stroke-width="1.3" stroke-linejoin="miter"/></svg>
<div style="position:absolute;top:633.85px;font-size:14px;line-height:14px;color:#252423;font-weight:400;white-space:nowrap;right:619.50px;text-align:right;">86.67</div>
<div style="position:absolute;top:633.85px;font-size:14px;line-height:14px;color:#252423;font-weight:400;white-space:nowrap;right:231.30px;text-align:right;">82.50</div>
<div style="position:absolute;top:633.85px;font-size:14px;line-height:14px;color:#252423;font-weight:400;white-space:nowrap;right:135.00px;text-align:right;">85.00</div>
<div style="position:absolute;top:659.85px;font-size:14px;line-height:14px;color:#252423;font-weight:400;white-space:nowrap;left:106.40px;text-decoration:underline;text-underline-offset:2px;">6563</div>
<div style="position:absolute;top:659.85px;font-size:14px;line-height:14px;color:#252423;font-weight:400;white-space:nowrap;left:151.00px;">EL</div>
<div style="position:absolute;top:659.85px;font-size:14px;line-height:14px;color:#252423;font-weight:400;white-space:nowrap;left:305.40px;">V</div>
<div style="position:absolute;top:659.85px;font-size:14px;line-height:14px;color:#252423;font-weight:400;white-space:nowrap;left:399.80px;">EP15614</div>
<svg style="position:absolute;left:529.9px;top:657.8px;overflow:visible" width="20" height="16" viewBox="0 0 20 16"><polygon points="2.4,7.6 6.4,11.7 17.3,0.8 19.0,2.4 6.4,15.1 0.6,9.2" fill="#5cb470" stroke="#1d5a2e" stroke-width="1.3" stroke-linejoin="miter"/></svg>
<svg style="position:absolute;left:693.8px;top:655.5px;overflow:visible" width="20" height="20" viewBox="0 0 20 20"><line x1="1.2" y1="18.5" x2="18.6" y2="1.5" stroke="#a0100e" stroke-width="4.4"/><line x1="2.0" y1="17.7" x2="17.8" y2="2.3" stroke="#f26b5f" stroke-width="1.9"/><line x1="1.2" y1="1.5" x2="18.6" y2="18.5" stroke="#a0100e" stroke-width="4.4"/><line x1="2.0" y1="2.3" x2="17.8" y2="17.7" stroke="#f26b5f" stroke-width="1.9"/></svg>
<svg style="position:absolute;left:845.4px;top:657.8px;overflow:visible" width="20" height="16" viewBox="0 0 20 16"><polygon points="2.4,7.6 6.4,11.7 17.3,0.8 19.0,2.4 6.4,15.1 0.6,9.2" fill="#5cb470" stroke="#1d5a2e" stroke-width="1.3" stroke-linejoin="miter"/></svg>
<svg style="position:absolute;left:1071.5px;top:657.8px;overflow:visible" width="20" height="16" viewBox="0 0 20 16"><polygon points="2.4,7.6 6.4,11.7 17.3,0.8 19.0,2.4 6.4,15.1 0.6,9.2" fill="#5cb470" stroke="#1d5a2e" stroke-width="1.3" stroke-linejoin="miter"/></svg>
<svg style="position:absolute;left:1231.2px;top:657.8px;overflow:visible" width="20" height="16" viewBox="0 0 20 16"><polygon points="2.4,7.6 6.4,11.7 17.3,0.8 19.0,2.4 6.4,15.1 0.6,9.2" fill="#5cb470" stroke="#1d5a2e" stroke-width="1.3" stroke-linejoin="miter"/></svg>
<div style="position:absolute;top:659.85px;font-size:14px;line-height:14px;color:#252423;font-weight:400;white-space:nowrap;right:619.50px;text-align:right;">71.67</div>
<div style="position:absolute;top:659.85px;font-size:14px;line-height:14px;color:#252423;font-weight:400;white-space:nowrap;right:231.30px;text-align:right;">85.00</div>
<div style="position:absolute;top:659.85px;font-size:14px;line-height:14px;color:#252423;font-weight:400;white-space:nowrap;right:135.00px;text-align:right;">77.00</div>
<div style="position:absolute;top:684.85px;font-size:14px;line-height:14px;color:#252423;font-weight:400;white-space:nowrap;left:106.40px;text-decoration:underline;text-underline-offset:2px;">6549</div>
<div style="position:absolute;top:684.85px;font-size:14px;line-height:14px;color:#252423;font-weight:400;white-space:nowrap;left:151.00px;">PH</div>
<div style="position:absolute;top:684.85px;font-size:14px;line-height:14px;color:#252423;font-weight:400;white-space:nowrap;left:305.40px;">V</div>
<div style="position:absolute;top:684.85px;font-size:14px;line-height:14px;color:#252423;font-weight:400;white-space:nowrap;left:404.70px;">P06708</div>
<svg style="position:absolute;left:529.9px;top:683.8px;overflow:visible" width="20" height="16" viewBox="0 0 20 16"><polygon points="2.4,7.6 6.4,11.7 17.3,0.8 19.0,2.4 6.4,15.1 0.6,9.2" fill="#5cb470" stroke="#1d5a2e" stroke-width="1.3" stroke-linejoin="miter"/></svg>
<svg style="position:absolute;left:701.3px;top:681.5px;overflow:visible" width="5" height="21" viewBox="0 0 5 21"><rect x="0.5" y="0.5" width="4" height="13.7" fill="#e29a2c" stroke="#a86a10" stroke-width="1"/><rect x="0.5" y="16.1" width="4" height="4.4" fill="#e29a2c" stroke="#a86a10" stroke-width="1"/></svg>
<svg style="position:absolute;left:845.4px;top:683.8px;overflow:visible" width="20" height="16" viewBox="0 0 20 16"><polygon points="2.4,7.6 6.4,11.7 17.3,0.8 19.0,2.4 6.4,15.1 0.6,9.2" fill="#5cb470" stroke="#1d5a2e" stroke-width="1.3" stroke-linejoin="miter"/></svg>
<svg style="position:absolute;left:1079.3px;top:681.5px;overflow:visible" width="5" height="21" viewBox="0 0 5 21"><rect x="0.5" y="0.5" width="4" height="13.7" fill="#e29a2c" stroke="#a86a10" stroke-width="1"/><rect x="0.5" y="16.1" width="4" height="4.4" fill="#e29a2c" stroke="#a86a10" stroke-width="1"/></svg>
<svg style="position:absolute;left:1231.2px;top:683.8px;overflow:visible" width="20" height="16" viewBox="0 0 20 16"><polygon points="2.4,7.6 6.4,11.7 17.3,0.8 19.0,2.4 6.4,15.1 0.6,9.2" fill="#5cb470" stroke="#1d5a2e" stroke-width="1.3" stroke-linejoin="miter"/></svg>
<div style="position:absolute;top:684.85px;font-size:14px;line-height:14px;color:#252423;font-weight:400;white-space:nowrap;right:619.50px;text-align:right;">78.33</div>
<div style="position:absolute;top:684.85px;font-size:14px;line-height:14px;color:#252423;font-weight:400;white-space:nowrap;right:231.30px;text-align:right;">67.50</div>
<div style="position:absolute;top:684.85px;font-size:14px;line-height:14px;color:#252423;font-weight:400;white-space:nowrap;right:135.00px;text-align:right;">74.00</div>
<div style="position:absolute;top:711.85px;font-size:14px;line-height:14px;color:#252423;font-weight:400;white-space:nowrap;left:106.40px;text-decoration:underline;text-underline-offset:2px;">6548</div>
<div style="position:absolute;top:711.85px;font-size:14px;line-height:14px;color:#252423;font-weight:400;white-space:nowrap;left:151.00px;">Fil</div>
<div style="position:absolute;top:711.85px;font-size:14px;line-height:14px;color:#252423;font-weight:400;white-space:nowrap;left:305.40px;">V</div>
<div style="position:absolute;top:711.85px;font-size:14px;line-height:14px;color:#252423;font-weight:400;white-space:nowrap;left:404.70px;">P07082</div>
<svg style="position:absolute;left:529.9px;top:709.8px;overflow:visible" width="20" height="16" viewBox="0 0 20 16"><polygon points="2.4,7.6 6.4,11.7 17.3,0.8 19.0,2.4 6.4,15.1 0.6,9.2" fill="#5cb470" stroke="#1d5a2e" stroke-width="1.3" stroke-linejoin="miter"/></svg>
<svg style="position:absolute;left:693.5px;top:709.8px;overflow:visible" width="20" height="16" viewBox="0 0 20 16"><polygon points="2.4,7.6 6.4,11.7 17.3,0.8 19.0,2.4 6.4,15.1 0.6,9.2" fill="#5cb470" stroke="#1d5a2e" stroke-width="1.3" stroke-linejoin="miter"/></svg>
<svg style="position:absolute;left:845.4px;top:709.8px;overflow:visible" width="20" height="16" viewBox="0 0 20 16"><polygon points="2.4,7.6 6.4,11.7 17.3,0.8 19.0,2.4 6.4,15.1 0.6,9.2" fill="#5cb470" stroke="#1d5a2e" stroke-width="1.3" stroke-linejoin="miter"/></svg>
<svg style="position:absolute;left:1071.5px;top:709.8px;overflow:visible" width="20" height="16" viewBox="0 0 20 16"><polygon points="2.4,7.6 6.4,11.7 17.3,0.8 19.0,2.4 6.4,15.1 0.6,9.2" fill="#5cb470" stroke="#1d5a2e" stroke-width="1.3" stroke-linejoin="miter"/></svg>
<svg style="position:absolute;left:1231.2px;top:709.8px;overflow:visible" width="20" height="16" viewBox="0 0 20 16"><polygon points="2.4,7.6 6.4,11.7 17.3,0.8 19.0,2.4 6.4,15.1 0.6,9.2" fill="#5cb470" stroke="#1d5a2e" stroke-width="1.3" stroke-linejoin="miter"/></svg>
<div style="position:absolute;top:711.85px;font-size:14px;line-height:14px;color:#252423;font-weight:400;white-space:nowrap;right:619.50px;text-align:right;">86.67</div>
<div style="position:absolute;top:711.85px;font-size:14px;line-height:14px;color:#252423;font-weight:400;white-space:nowrap;right:231.30px;text-align:right;">85.00</div>
<div style="position:absolute;top:711.85px;font-size:14px;line-height:14px;color:#252423;font-weight:400;white-space:nowrap;right:135.00px;text-align:right;">86.00</div>
<div style="position:absolute;top:736.85px;font-size:14px;line-height:14px;color:#252423;font-weight:400;white-space:nowrap;left:106.40px;text-decoration:underline;text-underline-offset:2px;">6547</div>
<div style="position:absolute;top:736.85px;font-size:14px;line-height:14px;color:#252423;font-weight:400;white-space:nowrap;left:151.00px;">EL</div>
<div style="position:absolute;top:736.85px;font-size:14px;line-height:14px;color:#252423;font-weight:400;white-space:nowrap;left:305.40px;">V</div>
<div style="position:absolute;top:736.85px;font-size:14px;line-height:14px;color:#252423;font-weight:400;white-space:nowrap;left:404.70px;">P07381</div>
<svg style="position:absolute;left:529.9px;top:734.8px;overflow:visible" width="20" height="16" viewBox="0 0 20 16"><polygon points="2.4,7.6 6.4,11.7 17.3,0.8 19.0,2.4 6.4,15.1 0.6,9.2" fill="#5cb470" stroke="#1d5a2e" stroke-width="1.3" stroke-linejoin="miter"/></svg>
<svg style="position:absolute;left:693.5px;top:734.8px;overflow:visible" width="20" height="16" viewBox="0 0 20 16"><polygon points="2.4,7.6 6.4,11.7 17.3,0.8 19.0,2.4 6.4,15.1 0.6,9.2" fill="#5cb470" stroke="#1d5a2e" stroke-width="1.3" stroke-linejoin="miter"/></svg>
<svg style="position:absolute;left:845.4px;top:734.8px;overflow:visible" width="20" height="16" viewBox="0 0 20 16"><polygon points="2.4,7.6 6.4,11.7 17.3,0.8 19.0,2.4 6.4,15.1 0.6,9.2" fill="#5cb470" stroke="#1d5a2e" stroke-width="1.3" stroke-linejoin="miter"/></svg>
<svg style="position:absolute;left:1071.5px;top:734.8px;overflow:visible" width="20" height="16" viewBox="0 0 20 16"><polygon points="2.4,7.6 6.4,11.7 17.3,0.8 19.0,2.4 6.4,15.1 0.6,9.2" fill="#5cb470" stroke="#1d5a2e" stroke-width="1.3" stroke-linejoin="miter"/></svg>
<svg style="position:absolute;left:1231.2px;top:734.8px;overflow:visible" width="20" height="16" viewBox="0 0 20 16"><polygon points="2.4,7.6 6.4,11.7 17.3,0.8 19.0,2.4 6.4,15.1 0.6,9.2" fill="#5cb470" stroke="#1d5a2e" stroke-width="1.3" stroke-linejoin="miter"/></svg>
<div style="position:absolute;top:736.85px;font-size:14px;line-height:14px;color:#252423;font-weight:400;white-space:nowrap;right:619.50px;text-align:right;">86.67</div>
<div style="position:absolute;top:736.85px;font-size:14px;line-height:14px;color:#252423;font-weight:400;white-space:nowrap;right:231.30px;text-align:right;">77.50</div>
<div style="position:absolute;top:736.85px;font-size:14px;line-height:14px;color:#252423;font-weight:400;white-space:nowrap;right:135.00px;text-align:right;">83.00</div>
<div style="position:absolute;top:761.85px;font-size:14px;line-height:14px;color:#252423;font-weight:400;white-space:nowrap;left:106.40px;text-decoration:underline;text-underline-offset:2px;">6546</div>
<div style="position:absolute;top:761.85px;font-size:14px;line-height:14px;color:#252423;font-weight:400;white-space:nowrap;left:151.00px;">HU</div>
<div style="position:absolute;top:782.35px;font-size:14px;line-height:14px;color:#252423;font-weight:400;white-space:nowrap;left:151.00px;">(24)</div>
<div style="position:absolute;top:761.85px;font-size:14px;line-height:14px;color:#252423;font-weight:400;white-space:nowrap;left:305.40px;">V</div>
<div style="position:absolute;top:761.85px;font-size:14px;line-height:14px;color:#252423;font-weight:400;white-space:nowrap;left:404.70px;">P07288</div>
<svg style="position:absolute;left:529.9px;top:769.6px;overflow:visible" width="20" height="16" viewBox="0 0 20 16"><polygon points="2.4,7.6 6.4,11.7 17.3,0.8 19.0,2.4 6.4,15.1 0.6,9.2" fill="#5cb470" stroke="#1d5a2e" stroke-width="1.3" stroke-linejoin="miter"/></svg>
<svg style="position:absolute;left:693.5px;top:769.6px;overflow:visible" width="20" height="16" viewBox="0 0 20 16"><polygon points="2.4,7.6 6.4,11.7 17.3,0.8 19.0,2.4 6.4,15.1 0.6,9.2" fill="#5cb470" stroke="#1d5a2e" stroke-width="1.3" stroke-linejoin="miter"/></svg>
<svg style="position:absolute;left:845.4px;top:769.6px;overflow:visible" width="20" height="16" viewBox="0 0 20 16"><polygon points="2.4,7.6 6.4,11.7 17.3,0.8 19.0,2.4 6.4,15.1 0.6,9.2" fill="#5cb470" stroke="#1d5a2e" stroke-width="1.3" stroke-linejoin="miter"/></svg>
<svg style="position:absolute;left:1071.5px;top:769.6px;overflow:visible" width="20" height="16" viewBox="0 0 20 16"><polygon points="2.4,7.6 6.4,11.7 17.3,0.8 19.0,2.4 6.4,15.1 0.6,9.2" fill="#5cb470" stroke="#1d5a2e" stroke-width="1.3" stroke-linejoin="miter"/></svg>
<svg style="position:absolute;left:1231.2px;top:769.6px;overflow:visible" width="20" height="16" viewBox="0 0 20 16"><polygon points="2.4,7.6 6.4,11.7 17.3,0.8 19.0,2.4 6.4,15.1 0.6,9.2" fill="#5cb470" stroke="#1d5a2e" stroke-width="1.3" stroke-linejoin="miter"/></svg>
<div style="position:absolute;top:761.85px;font-size:14px;line-height:14px;color:#252423;font-weight:400;white-space:nowrap;right:619.50px;text-align:right;">83.33</div>
<div style="position:absolute;top:761.85px;font-size:14px;line-height:14px;color:#252423;font-weight:400;white-space:nowrap;right:231.30px;text-align:right;">82.50</div>
<div style="position:absolute;top:761.85px;font-size:14px;line-height:14px;color:#252423;font-weight:400;white-space:nowrap;right:135.00px;text-align:right;">83.00</div>
<div style="position:absolute;left:164.5px;top:334px;width:15.5px;height:20px;background:#dcdcdc;"></div>
<div style="position:absolute;left:180px;top:334px;width:20px;height:20px;background:#d4d4d4;"></div>
<div style="position:absolute;left:200px;top:334px;width:20px;height:20px;background:#e2e2e2;"></div>
<div style="position:absolute;left:220px;top:334px;width:20px;height:20px;background:#d6d6d6;"></div>
<div style="position:absolute;left:240px;top:334px;width:20px;height:20px;background:#fefefe;"></div>
<div style="position:absolute;left:260px;top:334px;width:20px;height:20px;background:#fefefe;"></div>
<div style="position:absolute;left:280px;top:334px;width:13px;height:20px;background:#fafafa;"></div>
<div style="position:absolute;left:164.5px;top:354px;width:15.5px;height:20px;background:#cbcbcb;"></div>
<div style="position:absolute;left:180px;top:354px;width:20px;height:20px;background:#c8c8c8;"></div>
<div style="position:absolute;left:200px;top:354px;width:20px;height:20px;background:#cdcdcd;"></div>
<div style="position:absolute;left:220px;top:354px;width:20px;height:20px;background:#cdcdcd;"></div>
<div style="position:absolute;left:240px;top:354px;width:20px;height:20px;background:#ececec;"></div>
<div style="position:absolute;left:260px;top:354px;width:20px;height:20px;background:#ededed;"></div>
<div style="position:absolute;left:280px;top:354px;width:13px;height:20px;background:#e8e8e8;"></div>
<div style="position:absolute;left:164.5px;top:374px;width:15.5px;height:20px;background:#e6e6e6;"></div>
<div style="position:absolute;left:180px;top:374px;width:20px;height:20px;background:#e2e2e2;"></div>
<div style="position:absolute;left:200px;top:374px;width:20px;height:20px;background:#e8e8e8;"></div>
<div style="position:absolute;left:220px;top:374px;width:20px;height:20px;background:#dedede;"></div>
<div style="position:absolute;left:240px;top:374px;width:20px;height:20px;background:#e3e3e3;"></div>
<div style="position:absolute;left:260px;top:374px;width:20px;height:20px;background:#dddddd;"></div>
<div style="position:absolute;left:280px;top:374px;width:13px;height:20px;background:#ececec;"></div>
<div style="position:absolute;left:164.5px;top:394px;width:15.5px;height:20px;background:#dcdcdc;"></div>
<div style="position:absolute;left:180px;top:394px;width:20px;height:20px;background:#efefef;"></div>
<div style="position:absolute;left:200px;top:394px;width:20px;height:20px;background:#ececec;"></div>
<div style="position:absolute;left:220px;top:394px;width:20px;height:20px;background:#f3f3f3;"></div>
<div style="position:absolute;left:240px;top:394px;width:20px;height:20px;background:#eeeeee;"></div>
<div style="position:absolute;left:260px;top:394px;width:20px;height:20px;background:#eeeeee;"></div>
<div style="position:absolute;left:280px;top:394px;width:13px;height:20px;background:#f8f8f8;"></div>
<div style="position:absolute;left:164.5px;top:414px;width:15.5px;height:20px;background:#e0e0e0;"></div>
<div style="position:absolute;left:180px;top:414px;width:20px;height:20px;background:#f1f1f1;"></div>
<div style="position:absolute;left:200px;top:414px;width:20px;height:20px;background:#f1f1f1;"></div>
<div style="position:absolute;left:220px;top:414px;width:20px;height:20px;background:#f1f1f1;"></div>
<div style="position:absolute;left:240px;top:414px;width:20px;height:20px;background:#f1f1f1;"></div>
<div style="position:absolute;left:260px;top:414px;width:20px;height:20px;background:#f1f1f1;"></div>
<div style="position:absolute;left:280px;top:414px;width:13px;height:20px;background:#efefef;"></div>
<div style="position:absolute;left:164.5px;top:434px;width:15.5px;height:20px;background:#c8c8c8;"></div>
<div style="position:absolute;left:180px;top:434px;width:20px;height:20px;background:#c6c6c6;"></div>
<div style="position:absolute;left:200px;top:434px;width:20px;height:20px;background:#c8c8c8;"></div>
<div style="position:absolute;left:220px;top:434px;width:20px;height:20px;background:#d6d6d6;"></div>
<div style="position:absolute;left:240px;top:434px;width:20px;height:20px;background:#e2e2e2;"></div>
<div style="position:absolute;left:260px;top:434px;width:20px;height:20px;background:#e6e6e6;"></div>
<div style="position:absolute;left:280px;top:434px;width:13px;height:20px;background:#e4e4e4;"></div>
<div style="position:absolute;left:164.5px;top:454px;width:15.5px;height:20px;background:#e0e0e0;"></div>
<div style="position:absolute;left:180px;top:454px;width:20px;height:20px;background:#e4e4e4;"></div>
<div style="position:absolute;left:200px;top:454px;width:20px;height:20px;background:#fefefe;"></div>
<div style="position:absolute;left:220px;top:454px;width:20px;height:20px;background:#fefefe;"></div>
<div style="position:absolute;left:240px;top:454px;width:20px;height:20px;background:#fefefe;"></div>
<div style="position:absolute;left:260px;top:454px;width:20px;height:20px;background:#fefefe;"></div>
<div style="position:absolute;left:280px;top:454px;width:13px;height:20px;background:#fafafa;"></div>
<div style="position:absolute;left:164.5px;top:474px;width:15.5px;height:20px;background:#d6d6d6;"></div>
<div style="position:absolute;left:180px;top:474px;width:20px;height:20px;background:#d2d2d2;"></div>
<div style="position:absolute;left:200px;top:474px;width:20px;height:20px;background:#dadada;"></div>
<div style="position:absolute;left:220px;top:474px;width:20px;height:20px;background:#d4d4d4;"></div>
<div style="position:absolute;left:240px;top:474px;width:20px;height:20px;background:#ececec;"></div>
<div style="position:absolute;left:260px;top:474px;width:20px;height:20px;background:#ececec;"></div>
<div style="position:absolute;left:280px;top:474px;width:13px;height:20px;background:#e8e8e8;"></div>
<div style="position:absolute;left:164.5px;top:494px;width:15.5px;height:20px;background:#e0e0e0;"></div>
<div style="position:absolute;left:180px;top:494px;width:20px;height:20px;background:#dedede;"></div>
<div style="position:absolute;left:200px;top:494px;width:20px;height:20px;background:#e4e4e4;"></div>
<div style="position:absolute;left:220px;top:494px;width:20px;height:20px;background:#dedede;"></div>
<div style="position:absolute;left:240px;top:494px;width:20px;height:20px;background:#f2f2f2;"></div>
<div style="position:absolute;left:260px;top:494px;width:20px;height:20px;background:#f2f2f2;"></div>
<div style="position:absolute;left:280px;top:494px;width:13px;height:20px;background:#f0f0f0;"></div>
<div style="position:absolute;left:164.5px;top:514px;width:15.5px;height:20px;background:#e2e2e2;"></div>
<div style="position:absolute;left:180px;top:514px;width:20px;height:20px;background:#dcdcdc;"></div>
<div style="position:absolute;left:200px;top:514px;width:20px;height:20px;background:#e6e6e6;"></div>
<div style="position:absolute;left:220px;top:514px;width:20px;height:20px;background:#dcdcdc;"></div>
<div style="position:absolute;left:240px;top:514px;width:20px;height:20px;background:#f7f7f7;"></div>
<div style="position:absolute;left:260px;top:514px;width:20px;height:20px;background:#f7f7f7;"></div>
<div style="position:absolute;left:280px;top:514px;width:13px;height:20px;background:#f8f8f8;"></div>
<div style="position:absolute;left:164.5px;top:534px;width:15.5px;height:20px;background:#d0d0d0;"></div>
<div style="position:absolute;left:180px;top:534px;width:20px;height:20px;background:#d0d0d0;"></div>
<div style="position:absolute;left:200px;top:534px;width:20px;height:20px;background:#d4d4d4;"></div>
<div style="position:absolute;left:220px;top:534px;width:20px;height:20px;background:#d4d4d4;"></div>
<div style="position:absolute;left:240px;top:534px;width:20px;height:20px;background:#d4d4d4;"></div>
<div style="position:absolute;left:260px;top:534px;width:20px;height:20px;background:#d4d4d4;"></div>
<div style="position:absolute;left:280px;top:534px;width:13px;height:20px;background:#eaeaea;"></div>
<div style="position:absolute;left:164.5px;top:554px;width:15.5px;height:20px;background:#e0e0e0;"></div>
<div style="position:absolute;left:180px;top:554px;width:20px;height:20px;background:#dedede;"></div>
<div style="position:absolute;left:200px;top:554px;width:20px;height:20px;background:#e0e0e0;"></div>
<div style="position:absolute;left:220px;top:554px;width:20px;height:20px;background:#e0e0e0;"></div>
<div style="position:absolute;left:240px;top:554px;width:20px;height:20px;background:#dadada;"></div>
<div style="position:absolute;left:260px;top:554px;width:20px;height:20px;background:#d8d8d8;"></div>
<div style="position:absolute;left:280px;top:554px;width:13px;height:20px;background:#ececec;"></div>
<div style="position:absolute;left:164.5px;top:574px;width:15.5px;height:20px;background:#e4e4e4;"></div>
<div style="position:absolute;left:180px;top:574px;width:20px;height:20px;background:#fefefe;"></div>
<div style="position:absolute;left:200px;top:574px;width:20px;height:20px;background:#fefefe;"></div>
<div style="position:absolute;left:220px;top:574px;width:20px;height:20px;background:#fefefe;"></div>
<div style="position:absolute;left:240px;top:574px;width:20px;height:20px;background:#fdfdfd;"></div>
<div style="position:absolute;left:260px;top:574px;width:20px;height:20px;background:#fdfdfd;"></div>
<div style="position:absolute;left:280px;top:574px;width:13px;height:20px;background:#f8f8f8;"></div>
<div style="position:absolute;left:164.5px;top:594px;width:15.5px;height:20px;background:#e0e0e0;"></div>
<div style="position:absolute;left:180px;top:594px;width:20px;height:20px;background:#e2e2e2;"></div>
<div style="position:absolute;left:200px;top:594px;width:20px;height:20px;background:#e2e2e2;"></div>
<div style="position:absolute;left:220px;top:594px;width:20px;height:20px;background:#e2e2e2;"></div>
<div style="position:absolute;left:240px;top:594px;width:20px;height:20px;background:#eeeeee;"></div>
<div style="position:absolute;left:260px;top:594px;width:20px;height:20px;background:#ececec;"></div>
<div style="position:absolute;left:280px;top:594px;width:13px;height:20px;background:#ebebeb;"></div>
<div style="position:absolute;left:164.5px;top:614px;width:15.5px;height:20px;background:#e0e0e0;"></div>
<div style="position:absolute;left:180px;top:614px;width:20px;height:20px;background:#dcdcdc;"></div>
<div style="position:absolute;left:200px;top:614px;width:20px;height:20px;background:#dedede;"></div>
<div style="position:absolute;left:220px;top:614px;width:20px;height:20px;background:#dedede;"></div>
<div style="position:absolute;left:240px;top:614px;width:20px;height:20px;background:#ededed;"></div>
<div style="position:absolute;left:260px;top:614px;width:20px;height:20px;background:#ececec;"></div>
<div style="position:absolute;left:280px;top:614px;width:13px;height:20px;background:#ebebeb;"></div>
<div style="position:absolute;left:164.5px;top:634px;width:15.5px;height:20px;background:#dcdcdc;"></div>
<div style="position:absolute;left:180px;top:634px;width:20px;height:20px;background:#d4d4d4;"></div>
<div style="position:absolute;left:200px;top:634px;width:20px;height:20px;background:#e0e0e0;"></div>
<div style="position:absolute;left:220px;top:634px;width:20px;height:20px;background:#d8d8d8;"></div>
<div style="position:absolute;left:240px;top:634px;width:20px;height:20px;background:#fbfbfb;"></div>
<div style="position:absolute;left:260px;top:634px;width:20px;height:20px;background:#fbfbfb;"></div>
<div style="position:absolute;left:280px;top:634px;width:13px;height:20px;background:#f6f6f6;"></div>
<div style="position:absolute;left:164.5px;top:654px;width:15.5px;height:20px;background:#d0d0d0;"></div>
<div style="position:absolute;left:180px;top:654px;width:20px;height:20px;background:#d2d2d2;"></div>
<div style="position:absolute;left:200px;top:654px;width:20px;height:20px;background:#d4d4d4;"></div>
<div style="position:absolute;left:220px;top:654px;width:20px;height:20px;background:#d4d4d4;"></div>
<div style="position:absolute;left:240px;top:654px;width:20px;height:20px;background:#d4d4d4;"></div>
<div style="position:absolute;left:260px;top:654px;width:20px;height:20px;background:#d4d4d4;"></div>
<div style="position:absolute;left:280px;top:654px;width:13px;height:20px;background:#eaeaea;"></div>
<div style="position:absolute;left:164.5px;top:674px;width:15.5px;height:20px;background:#e2e2e2;"></div>
<div style="position:absolute;left:180px;top:674px;width:20px;height:20px;background:#e0e0e0;"></div>
<div style="position:absolute;left:200px;top:674px;width:20px;height:20px;background:#e4e4e4;"></div>
<div style="position:absolute;left:220px;top:674px;width:20px;height:20px;background:#e4e4e4;"></div>
<div style="position:absolute;left:240px;top:674px;width:20px;height:20px;background:#f6f6f6;"></div>
<div style="position:absolute;left:260px;top:674px;width:20px;height:20px;background:#f6f6f6;"></div>
<div style="position:absolute;left:280px;top:674px;width:13px;height:20px;background:#f4f4f4;"></div>
<div style="position:absolute;left:164.5px;top:694px;width:15.5px;height:20px;background:#e6e6e6;"></div>
<div style="position:absolute;left:180px;top:694px;width:20px;height:20px;background:#e8e8e8;"></div>
<div style="position:absolute;left:200px;top:694px;width:20px;height:20px;background:#e8e8e8;"></div>
<div style="position:absolute;left:220px;top:694px;width:20px;height:20px;background:#e2e2e2;"></div>
<div style="position:absolute;left:240px;top:694px;width:20px;height:20px;background:#f2f2f2;"></div>
<div style="position:absolute;left:260px;top:694px;width:20px;height:20px;background:#f0f0f0;"></div>
<div style="position:absolute;left:280px;top:694px;width:13px;height:20px;background:#eeeeee;"></div>
<div style="position:absolute;left:164.5px;top:714px;width:15.5px;height:20px;background:#d2d2d2;"></div>
<div style="position:absolute;left:180px;top:714px;width:20px;height:20px;background:#cccccc;"></div>
<div style="position:absolute;left:200px;top:714px;width:20px;height:20px;background:#dadada;"></div>
<div style="position:absolute;left:220px;top:714px;width:20px;height:20px;background:#d4d4d4;"></div>
<div style="position:absolute;left:240px;top:714px;width:20px;height:20px;background:#ececec;"></div>
<div style="position:absolute;left:260px;top:714px;width:20px;height:20px;background:#ececec;"></div>
<div style="position:absolute;left:280px;top:714px;width:13px;height:20px;background:#eaeaea;"></div>
<div style="position:absolute;left:164.5px;top:734px;width:15.5px;height:20px;background:#e4e4e4;"></div>
<div style="position:absolute;left:180px;top:734px;width:20px;height:20px;background:#e6e6e6;"></div>
<div style="position:absolute;left:200px;top:734px;width:20px;height:20px;background:#e8e8e8;"></div>
<div style="position:absolute;left:220px;top:734px;width:20px;height:20px;background:#e8e8e8;"></div>
<div style="position:absolute;left:240px;top:734px;width:20px;height:20px;background:#e6e6e6;"></div>
<div style="position:absolute;left:260px;top:734px;width:20px;height:20px;background:#e6e6e6;"></div>
<div style="position:absolute;left:280px;top:734px;width:13px;height:20px;background:#fdfdfd;"></div>
<div style="position:absolute;left:164.5px;top:754px;width:15.5px;height:20px;background:#cecece;"></div>
<div style="position:absolute;left:180px;top:754px;width:20px;height:20px;background:#cccccc;"></div>
<div style="position:absolute;left:200px;top:754px;width:20px;height:20px;background:#d2d2d2;"></div>
<div style="position:absolute;left:220px;top:754px;width:20px;height:20px;background:#d2d2d2;"></div>
<div style="position:absolute;left:240px;top:754px;width:20px;height:20px;background:#cccccc;"></div>
<div style="position:absolute;left:260px;top:754px;width:20px;height:20px;background:#cacaca;"></div>
<div style="position:absolute;left:280px;top:754px;width:13px;height:20px;background:#e0e0e0;"></div>
<div style="position:absolute;left:164.5px;top:774px;width:15.5px;height:18px;background:#d4d4d4;"></div>
<div style="position:absolute;left:180px;top:774px;width:20px;height:18px;background:#ececec;"></div>
<div style="position:absolute;left:200px;top:774px;width:20px;height:18px;background:#ececec;"></div>
<div style="position:absolute;left:220px;top:774px;width:20px;height:18px;background:#eaeaea;"></div>
<div style="position:absolute;left:240px;top:774px;width:20px;height:18px;background:#eaeaea;"></div>
<div style="position:absolute;left:260px;top:774px;width:20px;height:18px;background:#eaeaea;"></div>
<div style="position:absolute;left:280px;top:774px;width:13px;height:18px;background:#e6e6e6;"></div>
<div style="position:absolute;left:308px;top:334px;width:12px;height:20px;background:#dedede;"></div>
<div style="position:absolute;left:320px;top:334px;width:20px;height:20px;background:#e2e2e2;"></div>
<div style="position:absolute;left:340px;top:334px;width:20px;height:20px;background:#ececec;"></div>
<div style="position:absolute;left:360px;top:334px;width:20px;height:20px;background:#dadada;"></div>
<div style="position:absolute;left:380px;top:334px;width:20px;height:20px;background:#e0e0e0;"></div>
<div style="position:absolute;left:400px;top:334px;width:8px;height:20px;background:#d8d8d8;"></div>
<div style="position:absolute;left:308px;top:354px;width:12px;height:20px;background:#d0d0d0;"></div>
<div style="position:absolute;left:320px;top:354px;width:20px;height:20px;background:#c8c8c8;"></div>
<div style="position:absolute;left:340px;top:354px;width:20px;height:20px;background:#d0d0d0;"></div>
<div style="position:absolute;left:360px;top:354px;width:20px;height:20px;background:#cecece;"></div>
<div style="position:absolute;left:380px;top:354px;width:20px;height:20px;background:#cecece;"></div>
<div style="position:absolute;left:400px;top:354px;width:8px;height:20px;background:#c8c8c8;"></div>
<div style="position:absolute;left:308px;top:374px;width:12px;height:20px;background:#ececec;"></div>
<div style="position:absolute;left:320px;top:374px;width:20px;height:20px;background:#eaeaea;"></div>
<div style="position:absolute;left:340px;top:374px;width:20px;height:20px;background:#ececec;"></div>
<div style="position:absolute;left:360px;top:374px;width:20px;height:20px;background:#eaeaea;"></div>
<div style="position:absolute;left:380px;top:374px;width:20px;height:20px;background:#e4e4e4;"></div>
<div style="position:absolute;left:400px;top:374px;width:8px;height:20px;background:#e6e6e6;"></div>
<div style="position:absolute;left:308px;top:394px;width:12px;height:20px;background:#f2f2f2;"></div>
<div style="position:absolute;left:320px;top:394px;width:20px;height:20px;background:#eeeeee;"></div>
<div style="position:absolute;left:340px;top:394px;width:20px;height:20px;background:#f2f2f2;"></div>
<div style="position:absolute;left:360px;top:394px;width:20px;height:20px;background:#f4f4f4;"></div>
<div style="position:absolute;left:380px;top:394px;width:20px;height:20px;background:#eeeeee;"></div>
<div style="position:absolute;left:400px;top:394px;width:8px;height:20px;background:#f2f2f2;"></div>
<div style="position:absolute;left:308px;top:414px;width:12px;height:20px;background:#f4f4f4;"></div>
<div style="position:absolute;left:320px;top:414px;width:20px;height:20px;background:#f2f2f2;"></div>
<div style="position:absolute;left:340px;top:414px;width:20px;height:20px;background:#f2f2f2;"></div>
<div style="position:absolute;left:360px;top:414px;width:20px;height:20px;background:#f2f2f2;"></div>
<div style="position:absolute;left:380px;top:414px;width:20px;height:20px;background:#f2f2f2;"></div>
<div style="position:absolute;left:400px;top:414px;width:8px;height:20px;background:#f2f2f2;"></div>
<div style="position:absolute;left:308px;top:434px;width:12px;height:20px;background:#d4d4d4;"></div>
<div style="position:absolute;left:320px;top:434px;width:20px;height:20px;background:#cacaca;"></div>
<div style="position:absolute;left:340px;top:434px;width:20px;height:20px;background:#d8d8d8;"></div>
<div style="position:absolute;left:360px;top:434px;width:20px;height:20px;background:#cacaca;"></div>
<div style="position:absolute;left:380px;top:434px;width:20px;height:20px;background:#c8c8c8;"></div>
<div style="position:absolute;left:400px;top:434px;width:8px;height:20px;background:#c8c8c8;"></div>
<div style="position:absolute;left:308px;top:454px;width:12px;height:20px;background:#e4e4e4;"></div>
<div style="position:absolute;left:320px;top:454px;width:20px;height:20px;background:#dcdcdc;"></div>
<div style="position:absolute;left:340px;top:454px;width:20px;height:20px;background:#f2f2f2;"></div>
<div style="position:absolute;left:360px;top:454px;width:20px;height:20px;background:#d8d8d8;"></div>
<div style="position:absolute;left:380px;top:454px;width:20px;height:20px;background:#dcdcdc;"></div>
<div style="position:absolute;left:400px;top:454px;width:8px;height:20px;background:#dedede;"></div>
<div style="position:absolute;left:308px;top:474px;width:12px;height:20px;background:#dadada;"></div>
<div style="position:absolute;left:320px;top:474px;width:20px;height:20px;background:#d4d4d4;"></div>
<div style="position:absolute;left:340px;top:474px;width:20px;height:20px;background:#e6e6e6;"></div>
<div style="position:absolute;left:360px;top:474px;width:20px;height:20px;background:#d4d4d4;"></div>
<div style="position:absolute;left:380px;top:474px;width:20px;height:20px;background:#dadada;"></div>
<div style="position:absolute;left:400px;top:474px;width:8px;height:20px;background:#d4d4d4;"></div>
<div style="position:absolute;left:308px;top:494px;width:12px;height:20px;background:#e4e4e4;"></div>
<div style="position:absolute;left:320px;top:494px;width:20px;height:20px;background:#e6e6e6;"></div>
<div style="position:absolute;left:340px;top:494px;width:20px;height:20px;background:#e6e6e6;"></div>
<div style="position:absolute;left:360px;top:494px;width:20px;height:20px;background:#e2e2e2;"></div>
<div style="position:absolute;left:380px;top:494px;width:20px;height:20px;background:#e2e2e2;"></div>
<div style="position:absolute;left:400px;top:494px;width:8px;height:20px;background:#e2e2e2;"></div>
<div style="position:absolute;left:308px;top:514px;width:12px;height:20px;background:#e6e6e6;"></div>
<div style="position:absolute;left:320px;top:514px;width:20px;height:20px;background:#dcdcdc;"></div>
<div style="position:absolute;left:340px;top:514px;width:20px;height:20px;background:#ececec;"></div>
<div style="position:absolute;left:360px;top:514px;width:20px;height:20px;background:#e0e0e0;"></div>
<div style="position:absolute;left:380px;top:514px;width:20px;height:20px;background:#e0e0e0;"></div>
<div style="position:absolute;left:400px;top:514px;width:8px;height:20px;background:#e0e0e0;"></div>
<div style="position:absolute;left:308px;top:534px;width:12px;height:20px;background:#d6d6d6;"></div>
<div style="position:absolute;left:320px;top:534px;width:20px;height:20px;background:#d2d2d2;"></div>
<div style="position:absolute;left:340px;top:534px;width:20px;height:20px;background:#dcdcdc;"></div>
<div style="position:absolute;left:360px;top:534px;width:20px;height:20px;background:#cacaca;"></div>
<div style="position:absolute;left:380px;top:534px;width:20px;height:20px;background:#d6d6d6;"></div>
<div style="position:absolute;left:400px;top:534px;width:8px;height:20px;background:#cacaca;"></div>
<div style="position:absolute;left:308px;top:554px;width:12px;height:20px;background:#e4e4e4;"></div>
<div style="position:absolute;left:320px;top:554px;width:20px;height:20px;background:#e2e2e2;"></div>
<div style="position:absolute;left:340px;top:554px;width:20px;height:20px;background:#f0f0f0;"></div>
<div style="position:absolute;left:360px;top:554px;width:20px;height:20px;background:#dedede;"></div>
<div style="position:absolute;left:380px;top:554px;width:20px;height:20px;background:#e0e0e0;"></div>
<div style="position:absolute;left:400px;top:554px;width:8px;height:20px;background:#e0e0e0;"></div>
<div style="position:absolute;left:308px;top:574px;width:12px;height:20px;background:#fdfdfd;"></div>
<div style="position:absolute;left:320px;top:574px;width:20px;height:20px;background:#fbfbfb;"></div>
<div style="position:absolute;left:340px;top:574px;width:20px;height:20px;background:#f9f9f9;"></div>
<div style="position:absolute;left:360px;top:574px;width:20px;height:20px;background:#fefefe;"></div>
<div style="position:absolute;left:380px;top:574px;width:20px;height:20px;background:#fcfcfc;"></div>
<div style="position:absolute;left:400px;top:574px;width:8px;height:20px;background:#fdfdfd;"></div>
<div style="position:absolute;left:308px;top:594px;width:12px;height:20px;background:#e4e4e4;"></div>
<div style="position:absolute;left:320px;top:594px;width:20px;height:20px;background:#e4e4e4;"></div>
<div style="position:absolute;left:340px;top:594px;width:20px;height:20px;background:#e6e6e6;"></div>
<div style="position:absolute;left:360px;top:594px;width:20px;height:20px;background:#e4e4e4;"></div>
<div style="position:absolute;left:380px;top:594px;width:20px;height:20px;background:#e8e8e8;"></div>
<div style="position:absolute;left:400px;top:594px;width:8px;height:20px;background:#e4e4e4;"></div>
<div style="position:absolute;left:308px;top:614px;width:12px;height:20px;background:#e2e2e2;"></div>
<div style="position:absolute;left:320px;top:614px;width:20px;height:20px;background:#dedede;"></div>
<div style="position:absolute;left:340px;top:614px;width:20px;height:20px;background:#e0e0e0;"></div>
<div style="position:absolute;left:360px;top:614px;width:20px;height:20px;background:#e0e0e0;"></div>
<div style="position:absolute;left:380px;top:614px;width:20px;height:20px;background:#dedede;"></div>
<div style="position:absolute;left:400px;top:614px;width:8px;height:20px;background:#dedede;"></div>
<div style="position:absolute;left:308px;top:634px;width:12px;height:20px;background:#e0e0e0;"></div>
<div style="position:absolute;left:320px;top:634px;width:20px;height:20px;background:#dadada;"></div>
<div style="position:absolute;left:340px;top:634px;width:20px;height:20px;background:#e4e4e4;"></div>
<div style="position:absolute;left:360px;top:634px;width:20px;height:20px;background:#dedede;"></div>
<div style="position:absolute;left:380px;top:634px;width:20px;height:20px;background:#dadada;"></div>
<div style="position:absolute;left:400px;top:634px;width:8px;height:20px;background:#dadada;"></div>
<div style="position:absolute;left:308px;top:654px;width:12px;height:20px;background:#d4d4d4;"></div>
<div style="position:absolute;left:320px;top:654px;width:20px;height:20px;background:#cccccc;"></div>
<div style="position:absolute;left:340px;top:654px;width:20px;height:20px;background:#d6d6d6;"></div>
<div style="position:absolute;left:360px;top:654px;width:20px;height:20px;background:#d4d4d4;"></div>
<div style="position:absolute;left:380px;top:654px;width:20px;height:20px;background:#d2d2d2;"></div>
<div style="position:absolute;left:400px;top:654px;width:8px;height:20px;background:#d2d2d2;"></div>
<div style="position:absolute;left:308px;top:674px;width:12px;height:20px;background:#e2e2e2;"></div>
<div style="position:absolute;left:320px;top:674px;width:20px;height:20px;background:#e0e0e0;"></div>
<div style="position:absolute;left:340px;top:674px;width:20px;height:20px;background:#ececec;"></div>
<div style="position:absolute;left:360px;top:674px;width:20px;height:20px;background:#e2e2e2;"></div>
<div style="position:absolute;left:380px;top:674px;width:20px;height:20px;background:#e2e2e2;"></div>
<div style="position:absolute;left:400px;top:674px;width:8px;height:20px;background:#e0e0e0;"></div>
<div style="position:absolute;left:308px;top:694px;width:12px;height:20px;background:#e0e0e0;"></div>
<div style="position:absolute;left:320px;top:694px;width:20px;height:20px;background:#dedede;"></div>
<div style="position:absolute;left:340px;top:694px;width:20px;height:20px;background:#e0e0e0;"></div>
<div style="position:absolute;left:360px;top:694px;width:20px;height:20px;background:#e0e0e0;"></div>
<div style="position:absolute;left:380px;top:694px;width:20px;height:20px;background:#e0e0e0;"></div>
<div style="position:absolute;left:400px;top:694px;width:8px;height:20px;background:#e0e0e0;"></div>
<div style="position:absolute;left:308px;top:714px;width:12px;height:20px;background:#d8d8d8;"></div>
<div style="position:absolute;left:320px;top:714px;width:20px;height:20px;background:#d4d4d4;"></div>
<div style="position:absolute;left:340px;top:714px;width:20px;height:20px;background:#dedede;"></div>
<div style="position:absolute;left:360px;top:714px;width:20px;height:20px;background:#e0e0e0;"></div>
<div style="position:absolute;left:380px;top:714px;width:20px;height:20px;background:#d8d8d8;"></div>
<div style="position:absolute;left:400px;top:714px;width:8px;height:20px;background:#dadada;"></div>
<div style="position:absolute;left:308px;top:734px;width:12px;height:20px;background:#e6e6e6;"></div>
<div style="position:absolute;left:320px;top:734px;width:20px;height:20px;background:#e2e2e2;"></div>
<div style="position:absolute;left:340px;top:734px;width:20px;height:20px;background:#eaeaea;"></div>
<div style="position:absolute;left:360px;top:734px;width:20px;height:20px;background:#e6e6e6;"></div>
<div style="position:absolute;left:380px;top:734px;width:20px;height:20px;background:#e4e4e4;"></div>
<div style="position:absolute;left:400px;top:734px;width:8px;height:20px;background:#e2e2e2;"></div>
<div style="position:absolute;left:308px;top:754px;width:12px;height:20px;background:#d0d0d0;"></div>
<div style="position:absolute;left:320px;top:754px;width:20px;height:20px;background:#cecece;"></div>
<div style="position:absolute;left:340px;top:754px;width:20px;height:20px;background:#d6d6d6;"></div>
<div style="position:absolute;left:360px;top:754px;width:20px;height:20px;background:#d4d4d4;"></div>
<div style="position:absolute;left:380px;top:754px;width:20px;height:20px;background:#d4d4d4;"></div>
<div style="position:absolute;left:400px;top:754px;width:8px;height:20px;background:#cccccc;"></div>
<div style="position:absolute;left:308px;top:774px;width:12px;height:14px;background:#ececec;"></div>
<div style="position:absolute;left:320px;top:774px;width:20px;height:14px;background:#ececec;"></div>
<div style="position:absolute;left:340px;top:774px;width:20px;height:14px;background:#eaeaea;"></div>
<div style="position:absolute;left:360px;top:774px;width:20px;height:14px;background:#ececec;"></div>
<div style="position:absolute;left:380px;top:774px;width:20px;height:14px;background:#e8e8e8;"></div>
<div style="position:absolute;left:400px;top:774px;width:8px;height:14px;background:#ececec;"></div>
<div style="position:absolute;left:308px;top:258px;width:32px;height:16px;background:#d0d2ea;"></div>
<div style="position:absolute;left:306.8px;top:262px;width:1.2px;height:10.7px;background:#e49070;"></div>
<div style="position:absolute;left:308px;top:274px;width:12px;height:40px;background:#fafbfd;"></div>
<div style="position:absolute;left:308px;top:314px;width:100px;height:20px;background:#f6f7f9;"></div>
</body></html>
